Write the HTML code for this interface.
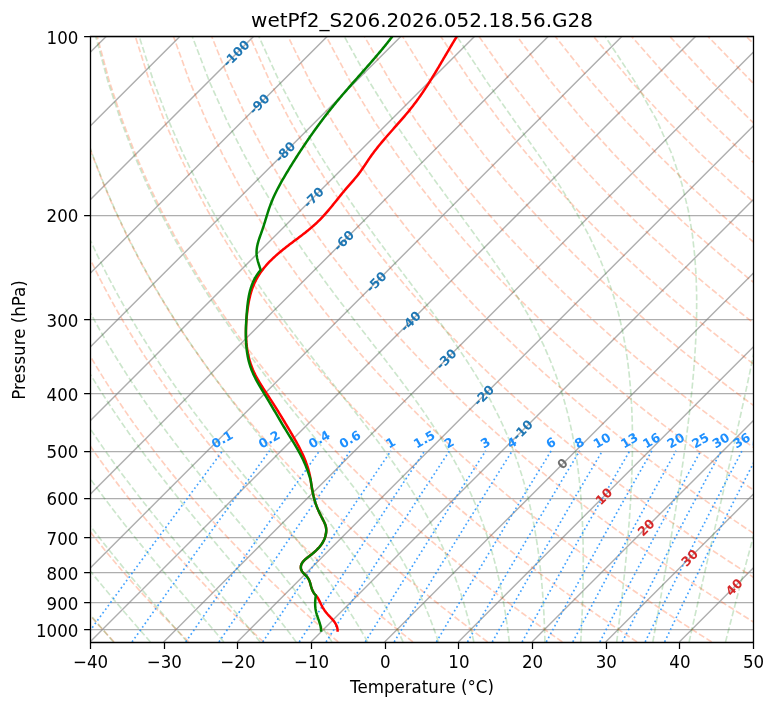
<!DOCTYPE html>
<html><head><meta charset="utf-8"><title>wetPf2_S206.2026.052.18.56.G28</title>
<style>html,body{margin:0;padding:0;background:#fff}svg{display:block}</style></head>
<body>
<svg width="775" height="708" viewBox="0 0 775 708" font-family="'DejaVu Sans', 'Liberation Sans', sans-serif">
<rect width="775" height="708" fill="#fff"/>
<defs><clipPath id="ax"><rect x="90.0" y="35.95" width="663.0" height="606.0"/></clipPath></defs>
<g clip-path="url(#ax)" fill="none">
<path d="M90.0,36.50 H753.0 M90.0,215.50 H753.0 M90.0,319.50 H753.0 M90.0,393.50 H753.0 M90.0,451.50 H753.0 M90.0,498.50 H753.0 M90.0,537.50 H753.0 M90.0,572.50 H753.0 M90.0,602.50 H753.0 M90.0,629.50 H753.0 " stroke="#808080" stroke-opacity="0.64" stroke-width="1.25"/>
<path d="M-573.00,641.95 L33.00,35.95 M-499.33,641.95 L106.67,35.95 M-425.67,641.95 L180.33,35.95 M-352.00,641.95 L254.00,35.95 M-278.33,641.95 L327.67,35.95 M-204.67,641.95 L401.33,35.95 M-131.00,641.95 L475.00,35.95 M-57.33,641.95 L548.67,35.95 M16.33,641.95 L622.33,35.95 M90.00,641.95 L696.00,35.95 M163.67,641.95 L769.67,35.95 M237.33,641.95 L843.33,35.95 M311.00,641.95 L917.00,35.95 M384.67,641.95 L990.67,35.95 M458.33,641.95 L1064.33,35.95 M532.00,641.95 L1138.00,35.95 M605.67,641.95 L1211.67,35.95 M679.33,641.95 L1285.33,35.95 M753.00,641.95 L1359.00,35.95 " stroke="#808080" stroke-opacity="0.64" stroke-width="1.42"/>
<path d="M114.11,641.95 L109.66,637.15 L105.18,632.25 L100.67,627.26 L96.12,622.18 L91.53,616.99 L86.91,611.69 L82.25,606.28 L77.56,600.76 L72.82,595.11 L68.05,589.34 L63.24,583.44 L58.38,577.40 L53.49,571.21 L48.55,564.87 L43.57,558.37 L38.55,551.70 L33.48,544.86 L28.37,537.83 L23.21,530.60 L18.01,523.16 L12.76,515.51 L7.47,507.61 L2.13,499.47 L-3.26,491.07 L-8.70,482.37 L-14.18,473.38 L-19.71,464.06 L-25.29,454.39 L-30.91,444.35 L-36.57,433.89 L-42.28,423.00 L-48.03,411.62 L-53.81,399.72 L-59.62,387.24 L-65.46,374.13 L-71.32,360.31 L-77.18,345.71 L-83.04,330.24 L-88.87,313.77 L-94.65,296.18 L-100.36,277.30 L-105.95,256.93 L-111.36,234.81 L-116.52,210.61 L-121.31,183.90 L-125.57,154.10 L-129.06,120.40 L-131.38,81.62 L-131.91,35.95 M188.81,641.95 L183.97,637.15 L179.09,632.25 L174.16,627.26 L169.20,622.18 L164.20,616.99 L159.15,611.69 L154.06,606.28 L148.92,600.76 L143.74,595.11 L138.52,589.34 L133.25,583.44 L127.92,577.40 L122.55,571.21 L117.13,564.87 L111.66,558.37 L106.14,551.70 L100.56,544.86 L94.93,537.83 L89.24,530.60 L83.49,523.16 L77.69,515.51 L71.83,507.61 L65.91,499.47 L59.93,491.07 L53.89,482.37 L47.79,473.38 L41.62,464.06 L35.39,454.39 L29.10,444.35 L22.74,433.89 L16.32,423.00 L9.84,411.62 L3.30,399.72 L-3.30,387.24 L-9.95,374.13 L-16.65,360.31 L-23.39,345.71 L-30.16,330.24 L-36.95,313.77 L-43.74,296.18 L-50.50,277.30 L-57.20,256.93 L-63.79,234.81 L-70.21,210.61 L-76.35,183.90 L-82.07,154.10 L-87.15,120.40 L-91.25,81.62 L-93.76,35.95 M263.51,641.95 L258.27,637.15 L252.99,632.25 L247.66,627.26 L242.28,622.18 L236.86,616.99 L231.39,611.69 L225.86,606.28 L220.29,600.76 L214.67,595.11 L208.99,589.34 L203.25,583.44 L197.47,577.40 L191.62,571.21 L185.71,564.87 L179.75,558.37 L173.72,551.70 L167.64,544.86 L161.48,537.83 L155.26,530.60 L148.98,523.16 L142.62,515.51 L136.20,507.61 L129.70,499.47 L123.13,491.07 L116.48,482.37 L109.75,473.38 L102.95,464.06 L96.07,454.39 L89.10,444.35 L82.05,433.89 L74.92,423.00 L67.71,411.62 L60.41,399.72 L53.03,387.24 L45.56,374.13 L38.02,360.31 L30.40,345.71 L22.71,330.24 L14.97,313.77 L7.18,296.18 L-0.64,277.30 L-8.45,256.93 L-16.23,234.81 L-23.90,210.61 L-31.39,183.90 L-38.58,154.10 L-45.25,120.40 L-51.11,81.62 L-55.60,35.95 M338.21,641.95 L332.58,637.15 L326.89,632.25 L321.15,627.26 L315.36,622.18 L309.52,616.99 L303.62,611.69 L297.67,606.28 L291.66,600.76 L285.59,595.11 L279.46,589.34 L273.26,583.44 L267.01,577.40 L260.69,571.21 L254.30,564.87 L247.84,558.37 L241.31,551.70 L234.71,544.86 L228.04,537.83 L221.29,530.60 L214.46,523.16 L207.55,515.51 L200.56,507.61 L193.49,499.47 L186.32,491.07 L179.07,482.37 L171.72,473.38 L164.28,464.06 L156.74,454.39 L149.11,444.35 L141.37,433.89 L133.52,423.00 L125.57,411.62 L117.52,399.72 L109.35,387.24 L101.07,374.13 L92.69,360.31 L84.19,345.71 L75.59,330.24 L66.89,313.77 L58.09,296.18 L49.22,277.30 L40.30,256.93 L31.34,234.81 L22.41,210.61 L13.56,183.90 L4.92,154.10 L-3.35,120.40 L-10.97,81.62 L-17.44,35.95 M412.91,641.95 L406.88,637.15 L400.79,632.25 L394.65,627.26 L388.44,622.18 L382.18,616.99 L375.86,611.69 L369.47,606.28 L363.02,600.76 L356.51,595.11 L349.92,589.34 L343.27,583.44 L336.55,577.40 L329.75,571.21 L322.88,564.87 L315.93,558.37 L308.90,551.70 L301.79,544.86 L294.60,537.83 L287.32,530.60 L279.95,523.16 L272.48,515.51 L264.93,507.61 L257.27,499.47 L249.52,491.07 L241.66,482.37 L233.69,473.38 L225.61,464.06 L217.42,454.39 L209.11,444.35 L200.68,433.89 L192.13,423.00 L183.44,411.62 L174.63,399.72 L165.67,387.24 L156.58,374.13 L147.35,360.31 L137.98,345.71 L128.46,330.24 L118.81,313.77 L109.01,296.18 L99.09,277.30 L89.04,256.93 L78.91,234.81 L68.72,210.61 L58.52,183.90 L48.42,154.10 L38.55,120.40 L29.17,81.62 L20.71,35.95 M487.61,641.95 L481.18,637.15 L474.69,632.25 L468.14,627.26 L461.53,622.18 L454.84,616.99 L448.09,611.69 L441.28,606.28 L434.39,600.76 L427.43,595.11 L420.39,589.34 L413.28,583.44 L406.09,577.40 L398.82,571.21 L391.46,564.87 L384.02,558.37 L376.49,551.70 L368.87,544.86 L361.16,537.83 L353.34,530.60 L345.43,523.16 L337.42,515.51 L329.29,507.61 L321.06,499.47 L312.71,491.07 L304.25,482.37 L295.66,473.38 L286.94,464.06 L278.10,454.39 L269.12,444.35 L260.00,433.89 L250.73,423.00 L241.31,411.62 L231.74,399.72 L222.00,387.24 L212.10,374.13 L202.02,360.31 L191.77,345.71 L181.34,330.24 L170.73,313.77 L159.93,296.18 L148.95,277.30 L137.79,256.93 L126.48,234.81 L115.03,210.61 L103.48,183.90 L91.91,154.10 L80.45,120.40 L69.31,81.62 L58.87,35.95 M562.31,641.95 L555.49,637.15 L548.60,632.25 L541.64,627.26 L534.61,622.18 L527.51,616.99 L520.33,611.69 L513.08,606.28 L505.76,600.76 L498.35,595.11 L490.86,589.34 L483.29,583.44 L475.63,577.40 L467.89,571.21 L460.05,564.87 L452.11,558.37 L444.08,551.70 L435.95,544.86 L427.71,537.83 L419.37,530.60 L410.92,523.16 L402.35,515.51 L393.66,507.61 L384.85,499.47 L375.91,491.07 L366.84,482.37 L357.63,473.38 L348.28,464.06 L338.78,454.39 L329.12,444.35 L319.31,433.89 L309.33,423.00 L299.18,411.62 L288.84,399.72 L278.32,387.24 L267.61,374.13 L256.69,360.31 L245.56,345.71 L234.22,330.24 L222.64,313.77 L210.84,296.18 L198.81,277.30 L186.54,256.93 L174.05,234.81 L161.33,210.61 L148.44,183.90 L135.41,154.10 L122.35,120.40 L109.44,81.62 L97.03,35.95 M637.01,641.95 L629.79,637.15 L622.50,632.25 L615.13,627.26 L607.69,622.18 L600.17,616.99 L592.57,611.69 L584.89,606.28 L577.12,600.76 L569.27,595.11 L561.33,589.34 L553.30,583.44 L545.17,577.40 L536.95,571.21 L528.63,564.87 L520.20,558.37 L511.67,551.70 L503.03,544.86 L494.27,537.83 L485.40,530.60 L476.40,523.16 L467.28,515.51 L458.02,507.61 L448.63,499.47 L439.10,491.07 L429.42,482.37 L419.60,473.38 L409.61,464.06 L399.45,454.39 L389.13,444.35 L378.62,433.89 L367.93,423.00 L357.04,411.62 L345.95,399.72 L334.65,387.24 L323.12,374.13 L311.36,360.31 L299.35,345.71 L287.09,330.24 L274.56,313.77 L261.76,296.18 L248.67,277.30 L235.29,256.93 L221.61,234.81 L207.64,210.61 L193.40,183.90 L178.91,154.10 L164.25,120.40 L149.58,81.62 L135.18,35.95 M711.71,641.95 L704.10,637.15 L696.40,632.25 L688.62,627.26 L680.77,622.18 L672.83,616.99 L664.80,611.69 L656.69,606.28 L648.49,600.76 L640.19,595.11 L631.80,589.34 L623.31,583.44 L614.72,577.40 L606.02,571.21 L597.21,564.87 L588.29,558.37 L579.26,551.70 L570.11,544.86 L560.83,537.83 L551.42,530.60 L541.88,523.16 L532.21,515.51 L522.39,507.61 L512.42,499.47 L502.30,491.07 L492.01,482.37 L481.56,473.38 L470.94,464.06 L460.13,454.39 L449.13,444.35 L437.94,433.89 L426.53,423.00 L414.91,411.62 L403.06,399.72 L390.97,387.24 L378.63,374.13 L366.03,360.31 L353.14,345.71 L339.97,330.24 L326.48,313.77 L312.68,296.18 L298.53,277.30 L284.04,256.93 L269.18,234.81 L253.95,210.61 L238.35,183.90 L222.40,154.10 L206.16,120.40 L189.72,81.62 L173.34,35.95 M786.42,641.95 L778.40,637.15 L770.30,632.25 L762.12,627.26 L753.85,622.18 L745.49,616.99 L737.04,611.69 L728.50,606.28 L719.85,600.76 L711.11,595.11 L702.27,589.34 L693.32,583.44 L684.26,577.40 L675.08,571.21 L665.79,564.87 L656.38,558.37 L646.85,551.70 L637.18,544.86 L627.39,537.83 L617.45,530.60 L607.37,523.16 L597.14,515.51 L586.75,507.61 L576.21,499.47 L565.49,491.07 L554.60,482.37 L543.53,473.38 L532.27,464.06 L520.81,454.39 L509.14,444.35 L497.25,433.89 L485.14,423.00 L472.78,411.62 L460.17,399.72 L447.30,387.24 L434.14,374.13 L420.69,360.31 L406.93,345.71 L392.84,330.24 L378.40,313.77 L363.59,296.18 L348.40,277.30 L332.79,256.93 L316.75,234.81 L300.26,210.61 L283.31,183.90 L265.90,154.10 L248.06,120.40 L229.86,81.62 L211.50,35.95 M861.12,641.95 L852.70,637.15 L844.20,632.25 L835.61,627.26 L826.93,622.18 L818.15,616.99 L809.28,611.69 L800.30,606.28 L791.22,600.76 L782.03,595.11 L772.74,589.34 L763.33,583.44 L753.80,577.40 L744.15,571.21 L734.38,564.87 L724.47,558.37 L714.44,551.70 L704.26,544.86 L693.94,537.83 L683.47,530.60 L672.85,523.16 L662.07,515.51 L651.12,507.61 L639.99,499.47 L628.69,491.07 L617.19,482.37 L605.50,473.38 L593.60,464.06 L581.49,454.39 L569.14,444.35 L556.57,433.89 L543.74,423.00 L530.65,411.62 L517.28,399.72 L503.62,387.24 L489.65,374.13 L475.36,360.31 L460.72,345.71 L445.72,330.24 L430.32,313.77 L414.51,296.18 L398.26,277.30 L381.54,256.93 L364.32,234.81 L346.57,210.61 L328.27,183.90 L309.40,154.10 L289.96,120.40 L270.00,81.62 L249.65,35.95 M935.82,641.95 L927.01,637.15 L918.11,632.25 L909.11,627.26 L900.01,622.18 L890.81,616.99 L881.51,611.69 L872.10,606.28 L862.59,600.76 L852.95,595.11 L843.21,589.34 L833.34,583.44 L823.34,577.40 L813.22,571.21 L802.96,564.87 L792.56,558.37 L782.03,551.70 L771.34,544.86 L760.50,537.83 L749.50,530.60 L738.34,523.16 L727.00,515.51 L715.48,507.61 L703.78,499.47 L691.88,491.07 L679.78,482.37 L667.47,473.38 L654.93,464.06 L642.16,454.39 L629.15,444.35 L615.88,433.89 L602.34,423.00 L588.52,411.62 L574.39,399.72 L559.95,387.24 L545.17,374.13 L530.03,360.31 L514.51,345.71 L498.59,330.24 L482.24,313.77 L465.43,296.18 L448.12,277.30 L430.28,256.93 L411.88,234.81 L392.88,210.61 L373.23,183.90 L352.89,154.10 L331.86,120.40 L310.14,81.62 L287.81,35.95 M1010.52,641.95 L1001.31,637.15 L992.01,632.25 L982.60,627.26 L973.09,622.18 L963.48,616.99 L953.75,611.69 L943.91,606.28 L933.95,600.76 L923.88,595.11 L913.67,589.34 L903.34,583.44 L892.88,577.40 L882.28,571.21 L871.54,564.87 L860.65,558.37 L849.62,551.70 L838.42,544.86 L827.06,537.83 L815.53,530.60 L803.82,523.16 L791.93,515.51 L779.85,507.61 L767.57,499.47 L755.08,491.07 L742.37,482.37 L729.44,473.38 L716.26,464.06 L702.84,454.39 L689.16,444.35 L675.19,433.89 L660.94,423.00 L646.38,411.62 L631.50,399.72 L616.27,387.24 L600.68,374.13 L584.70,360.31 L568.30,345.71 L551.47,330.24 L534.16,313.77 L516.34,296.18 L497.98,277.30 L479.03,256.93 L459.45,234.81 L439.19,210.61 L418.18,183.90 L396.39,154.10 L373.76,120.40 L350.27,81.62 L325.97,35.95 M1085.22,641.95 L1075.62,637.15 L1065.91,632.25 L1056.10,627.26 L1046.17,622.18 L1036.14,616.99 L1025.99,611.69 L1015.71,606.28 L1005.32,600.76 L994.80,595.11 L984.14,589.34 L973.35,583.44 L962.42,577.40 L951.35,571.21 L940.13,564.87 L928.75,558.37 L917.20,551.70 L905.50,544.86 L893.61,537.83 L881.55,530.60 L869.30,523.16 L856.86,515.51 L844.21,507.61 L831.35,499.47 L818.27,491.07 L804.96,482.37 L791.40,473.38 L777.59,464.06 L763.52,454.39 L749.16,444.35 L734.51,433.89 L719.54,423.00 L704.25,411.62 L688.61,399.72 L672.60,387.24 L656.19,374.13 L639.37,360.31 L622.09,345.71 L604.34,330.24 L586.08,313.77 L567.26,296.18 L547.84,277.30 L527.78,256.93 L507.02,234.81 L485.49,210.61 L463.14,183.90 L439.89,154.10 L415.66,120.40 L390.41,81.62 L364.12,35.95 M1159.92,641.95 L1149.92,637.15 L1139.81,632.25 L1129.59,627.26 L1119.25,622.18 L1108.80,616.99 L1098.22,611.69 L1087.52,606.28 L1076.69,600.76 L1065.72,595.11 L1054.61,589.34 L1043.36,583.44 L1031.97,577.40 L1020.42,571.21 L1008.71,564.87 L996.84,558.37 L984.79,551.70 L972.57,544.86 L960.17,537.83 L947.58,530.60 L934.79,523.16 L921.79,515.51 L908.58,507.61 L895.14,499.47 L881.47,491.07 L867.55,482.37 L853.37,473.38 L838.93,464.06 L824.20,454.39 L809.17,444.35 L793.82,433.89 L778.15,423.00 L762.12,411.62 L745.72,399.72 L728.92,387.24 L711.70,374.13 L694.03,360.31 L675.88,345.71 L657.22,330.24 L638.00,313.77 L618.18,296.18 L597.71,277.30 L576.53,256.93 L554.59,234.81 L531.80,210.61 L508.10,183.90 L483.38,154.10 L457.56,120.40 L430.55,81.62 L402.28,35.95 M1234.62,641.95 L1224.22,637.15 L1213.71,632.25 L1203.08,627.26 L1192.34,622.18 L1181.46,616.99 L1170.46,611.69 L1159.32,606.28 L1148.05,600.76 L1136.64,595.11 L1125.08,589.34 L1113.37,583.44 L1101.51,577.40 L1089.48,571.21 L1077.29,564.87 L1064.93,558.37 L1052.38,551.70 L1039.65,544.86 L1026.73,537.83 L1013.61,530.60 L1000.27,523.16 L986.72,515.51 L972.94,507.61 L958.93,499.47 L944.66,491.07 L930.14,482.37 L915.34,473.38 L900.26,464.06 L884.87,454.39 L869.17,444.35 L853.14,433.89 L836.75,423.00 L819.99,411.62 L802.83,399.72 L785.24,387.24 L767.21,374.13 L748.70,360.31 L729.67,345.71 L710.09,330.24 L689.92,313.77 L669.09,296.18 L647.57,277.30 L625.28,256.93 L602.15,234.81 L578.11,210.61 L553.06,183.90 L526.88,154.10 L499.47,120.40 L470.69,81.62 L440.44,35.95 M1309.32,641.95 L1298.53,637.15 L1287.61,632.25 L1276.58,627.26 L1265.42,622.18 L1254.12,616.99 L1242.69,611.69 L1231.13,606.28 L1219.42,600.76 L1207.56,595.11 L1195.55,589.34 L1183.38,583.44 L1171.05,577.40 L1158.55,571.21 L1145.87,564.87 L1133.02,558.37 L1119.97,551.70 L1106.73,544.86 L1093.29,537.83 L1079.63,530.60 L1065.76,523.16 L1051.65,515.51 L1037.31,507.61 L1022.71,499.47 L1007.86,491.07 L992.73,482.37 L977.31,473.38 L961.59,464.06 L945.55,454.39 L929.18,444.35 L912.45,433.89 L895.35,423.00 L877.85,411.62 L859.93,399.72 L841.57,387.24 L822.72,374.13 L803.37,360.31 L783.46,345.71 L762.97,330.24 L741.83,313.77 L720.01,296.18 L697.43,277.30 L674.03,256.93 L649.72,234.81 L624.42,210.61 L598.01,183.90 L570.38,154.10 L541.37,120.40 L510.83,81.62 L478.59,35.95 M1384.02,641.95 L1372.83,637.15 L1361.52,632.25 L1350.07,627.26 L1338.50,622.18 L1326.78,616.99 L1314.93,611.69 L1302.93,606.28 L1290.78,600.76 L1278.48,595.11 L1266.02,589.34 L1253.39,583.44 L1240.59,577.40 L1227.62,571.21 L1214.46,564.87 L1201.11,558.37 L1187.56,551.70 L1173.81,544.86 L1159.84,537.83 L1145.66,530.60 L1131.24,523.16 L1116.58,515.51 L1101.67,507.61 L1086.50,499.47 L1071.05,491.07 L1055.32,482.37 L1039.28,473.38 L1022.92,464.06 L1006.23,454.39 L989.18,444.35 L971.76,433.89 L953.95,423.00 L935.72,411.62 L917.04,399.72 L897.89,387.24 L878.24,374.13 L858.04,360.31 L837.25,345.71 L815.84,330.24 L793.75,313.77 L770.92,296.18 L747.29,277.30 L722.78,256.93 L697.29,234.81 L670.73,210.61 L642.97,183.90 L613.87,154.10 L583.27,120.40 L550.97,81.62 L516.75,35.95 M1458.72,641.95 L1447.14,637.15 L1435.42,632.25 L1423.57,627.26 L1411.58,622.18 L1399.45,616.99 L1387.17,611.69 L1374.74,606.28 L1362.15,600.76 L1349.40,595.11 L1336.49,589.34 L1323.40,583.44 L1310.13,577.40 L1296.68,571.21 L1283.04,564.87 L1269.20,558.37 L1255.15,551.70 L1240.89,544.86 L1226.40,537.83 L1211.68,530.60 L1196.72,523.16 L1181.51,515.51 L1166.04,507.61 L1150.29,499.47 L1134.25,491.07 L1117.90,482.37 L1101.24,473.38 L1084.25,464.06 L1066.90,454.39 L1049.19,444.35 L1031.08,433.89 L1012.55,423.00 L993.59,411.62 L974.15,399.72 L954.22,387.24 L933.75,374.13 L912.70,360.31 L891.04,345.71 L868.72,330.24 L845.67,313.77 L821.84,296.18 L797.15,277.30 L771.52,256.93 L744.86,234.81 L717.04,210.61 L687.93,183.90 L657.37,154.10 L625.17,120.40 L591.10,81.62 L554.91,35.95 M1533.42,641.95 L1521.44,637.15 L1509.32,632.25 L1497.06,627.26 L1484.66,622.18 L1472.11,616.99 L1459.40,611.69 L1446.54,606.28 L1433.52,600.76 L1420.32,595.11 L1406.96,589.34 L1393.41,583.44 L1379.67,577.40 L1365.75,571.21 L1351.62,564.87 L1337.29,558.37 L1322.74,551.70 L1307.97,544.86 L1292.96,537.83 L1277.71,530.60 L1262.21,523.16 L1246.44,515.51 L1230.40,507.61 L1214.07,499.47 L1197.44,491.07 L1180.49,482.37 L1163.21,473.38 L1145.58,464.06 L1127.58,454.39 L1109.19,444.35 L1090.39,433.89 L1071.16,423.00 L1051.46,411.62 L1031.26,399.72 L1010.54,387.24 L989.26,374.13 L967.37,360.31 L944.84,345.71 L921.59,330.24 L897.59,313.77 L872.76,296.18 L847.02,277.30 L820.27,256.93 L792.42,234.81 L763.35,210.61 L732.89,183.90 L700.87,154.10 L667.07,120.40 L631.24,81.62 L593.06,35.95 M1608.12,641.95 L1595.74,637.15 L1583.22,632.25 L1570.56,627.26 L1557.74,622.18 L1544.77,616.99 L1531.64,611.69 L1518.35,606.28 L1504.88,600.76 L1491.24,595.11 L1477.42,589.34 L1463.42,583.44 L1449.22,577.40 L1434.81,571.21 L1420.20,564.87 L1405.38,558.37 L1390.33,551.70 L1375.04,544.86 L1359.52,537.83 L1343.74,530.60 L1327.69,523.16 L1311.37,515.51 L1294.77,507.61 L1277.86,499.47 L1260.64,491.07 L1243.08,482.37 L1225.18,473.38 L1206.91,464.06 L1188.26,454.39 L1169.20,444.35 L1149.71,433.89 L1129.76,423.00 L1109.32,411.62 L1088.37,399.72 L1066.87,387.24 L1044.77,374.13 L1022.04,360.31 L998.63,345.71 L974.47,330.24 L949.51,313.77 L923.67,296.18 L896.88,277.30 L869.02,256.93 L839.99,234.81 L809.65,210.61 L777.84,183.90 L744.36,154.10 L708.97,120.40 L671.38,81.62 L631.22,35.95 M1682.82,641.95 L1670.05,637.15 L1657.12,632.25 L1644.05,627.26 L1630.82,622.18 L1617.43,616.99 L1603.88,611.69 L1590.15,606.28 L1576.25,600.76 L1562.17,595.11 L1547.89,589.34 L1533.43,583.44 L1518.76,577.40 L1503.88,571.21 L1488.79,564.87 L1473.47,558.37 L1457.92,551.70 L1442.12,544.86 L1426.07,537.83 L1409.76,530.60 L1393.18,523.16 L1376.30,515.51 L1359.13,507.61 L1341.65,499.47 L1323.83,491.07 L1305.67,482.37 L1287.15,473.38 L1268.24,464.06 L1248.94,454.39 L1229.20,444.35 L1209.02,433.89 L1188.36,423.00 L1167.19,411.62 L1145.48,399.72 L1123.19,387.24 L1100.28,374.13 L1076.71,360.31 L1052.42,345.71 L1027.35,330.24 L1001.43,313.77 L974.59,296.18 L946.74,277.30 L917.77,256.93 L887.56,234.81 L855.96,210.61 L822.80,183.90 L787.86,154.10 L750.88,120.40 L711.52,81.62 L669.38,35.95 M1757.52,641.95 L1744.35,637.15 L1731.03,632.25 L1717.55,627.26 L1703.90,622.18 L1690.09,616.99 L1676.11,611.69 L1661.96,606.28 L1647.62,600.76 L1633.09,595.11 L1618.36,589.34 L1603.44,583.44 L1588.30,577.40 L1572.95,571.21 L1557.37,564.87 L1541.56,558.37 L1525.51,551.70 L1509.20,544.86 L1492.63,537.83 L1475.79,530.60 L1458.66,523.16 L1441.24,515.51 L1423.50,507.61 L1405.43,499.47 L1387.03,491.07 L1368.26,482.37 L1349.12,473.38 L1329.58,464.06 L1309.61,454.39 L1289.21,444.35 L1268.33,433.89 L1246.96,423.00 L1225.06,411.62 L1202.59,399.72 L1179.52,387.24 L1155.79,374.13 L1131.38,360.31 L1106.21,345.71 L1080.22,330.24 L1053.35,313.77 L1025.51,296.18 L996.60,277.30 L966.52,256.93 L935.13,234.81 L902.27,210.61 L867.76,183.90 L831.36,154.10 L792.78,120.40 L751.66,81.62 L707.53,35.95 M1832.23,641.95 L1818.66,637.15 L1804.93,632.25 L1791.04,627.26 L1776.98,622.18 L1762.75,616.99 L1748.35,611.69 L1733.76,606.28 L1718.98,600.76 L1704.01,595.11 L1688.83,589.34 L1673.44,583.44 L1657.84,577.40 L1642.01,571.21 L1625.95,564.87 L1609.65,558.37 L1593.09,551.70 L1576.28,544.86 L1559.19,537.83 L1541.82,530.60 L1524.15,523.16 L1506.17,515.51 L1487.86,507.61 L1469.22,499.47 L1450.22,491.07 L1430.85,482.37 L1411.09,473.38 L1390.91,464.06 L1370.29,454.39 L1349.21,444.35 L1327.65,433.89 L1305.56,423.00 L1282.93,411.62 L1259.70,399.72 L1235.84,387.24 L1211.31,374.13 L1186.04,360.31 L1160.00,345.71 L1133.10,330.24 L1105.27,313.77 L1076.42,296.18 L1046.46,277.30 L1015.27,256.93 L982.70,234.81 L948.58,210.61 L912.72,183.90 L874.85,154.10 L834.68,120.40 L791.79,81.62 L745.69,35.95 M1906.93,641.95 L1892.96,637.15 L1878.83,632.25 L1864.53,627.26 L1850.06,622.18 L1835.42,616.99 L1820.59,611.69 L1805.56,606.28 L1790.35,600.76 L1774.93,595.11 L1759.30,589.34 L1743.45,583.44 L1727.38,577.40 L1711.08,571.21 L1694.54,564.87 L1677.74,558.37 L1660.68,551.70 L1643.36,544.86 L1625.75,537.83 L1607.84,530.60 L1589.63,523.16 L1571.10,515.51 L1552.23,507.61 L1533.01,499.47 L1513.42,491.07 L1493.44,482.37 L1473.05,473.38 L1452.24,464.06 L1430.97,454.39 L1409.22,444.35 L1386.96,433.89 L1364.17,423.00 L1340.79,411.62 L1316.81,399.72 L1292.17,387.24 L1266.82,374.13 L1240.71,360.31 L1213.79,345.71 L1185.97,330.24 L1157.19,313.77 L1127.34,296.18 L1096.32,277.30 L1064.02,256.93 L1030.26,234.81 L994.89,210.61 L957.67,183.90 L918.35,154.10 L876.58,120.40 L831.93,81.62 L783.85,35.95 " stroke="#ff4500" stroke-opacity="0.26" stroke-width="1.667" stroke-dasharray="6.17 2.67"/>
<path d="M113.45,641.95 L109.28,637.15 L105.05,632.25 L100.76,627.26 L96.43,622.18 L92.03,616.99 L87.58,611.69 L83.08,606.28 L78.53,600.76 L73.92,595.11 L69.26,589.34 L64.54,583.44 L59.77,577.40 L54.95,571.21 L50.08,564.87 L45.15,558.37 L40.17,551.70 L35.15,544.86 L30.06,537.83 L24.93,530.60 L19.75,523.16 L14.51,515.51 L9.22,507.61 L3.88,499.47 L-1.51,491.07 L-6.95,482.37 L-12.44,473.38 L-17.98,464.06 L-23.57,454.39 L-29.21,444.35 L-34.89,433.89 L-40.61,423.00 L-46.38,411.62 L-52.18,399.72 L-58.02,387.24 L-63.88,374.13 L-69.76,360.31 L-75.65,345.71 L-81.53,330.24 L-87.39,313.77 L-93.21,296.18 L-98.94,277.30 L-104.57,256.93 L-110.01,234.81 L-115.21,210.61 L-120.04,183.90 L-124.34,154.10 L-127.87,120.40 L-130.25,81.62 L-130.84,35.95 M150.41,641.95 L146.20,637.15 L141.92,632.25 L137.57,627.26 L133.15,622.18 L128.66,616.99 L124.11,611.69 L119.50,606.28 L114.81,600.76 L110.06,595.11 L105.25,589.34 L100.37,583.44 L95.43,577.40 L90.42,571.21 L85.36,564.87 L80.22,558.37 L75.03,551.70 L69.77,544.86 L64.46,537.83 L59.08,530.60 L53.64,523.16 L48.14,515.51 L42.57,507.61 L36.95,499.47 L31.26,491.07 L25.52,482.37 L19.72,473.38 L13.85,464.06 L7.93,454.39 L1.95,444.35 L-4.09,433.89 L-10.18,423.00 L-16.33,411.62 L-22.52,399.72 L-28.76,387.24 L-35.05,374.13 L-41.36,360.31 L-47.71,345.71 L-54.07,330.24 L-60.42,313.77 L-66.76,296.18 L-73.04,277.30 L-79.24,256.93 L-85.30,234.81 L-91.15,210.61 L-96.68,183.90 L-101.75,154.10 L-106.11,120.40 L-109.40,81.62 L-111.02,35.95 M187.21,641.95 L183.02,637.15 L178.75,632.25 L174.40,627.26 L169.96,622.18 L165.44,616.99 L160.84,611.69 L156.16,606.28 L151.40,600.76 L146.55,595.11 L141.63,589.34 L136.63,583.44 L131.55,577.40 L126.39,571.21 L121.16,564.87 L115.85,558.37 L110.46,551.70 L105.00,544.86 L99.46,537.83 L93.85,530.60 L88.17,523.16 L82.41,515.51 L76.58,507.61 L70.68,499.47 L64.70,491.07 L58.66,482.37 L52.54,473.38 L46.35,464.06 L40.09,454.39 L33.77,444.35 L27.37,433.89 L20.90,423.00 L14.37,411.62 L7.78,399.72 L1.12,387.24 L-5.59,374.13 L-12.36,360.31 L-19.16,345.71 L-26.01,330.24 L-32.87,313.77 L-39.74,296.18 L-46.58,277.30 L-53.37,256.93 L-60.06,234.81 L-66.58,210.61 L-72.82,183.90 L-78.66,154.10 L-83.87,120.40 L-88.10,81.62 L-90.77,35.95 M223.80,641.95 L219.72,637.15 L215.54,632.25 L211.26,627.26 L206.89,622.18 L202.41,616.99 L197.84,611.69 L193.16,606.28 L188.39,600.76 L183.52,595.11 L178.55,589.34 L173.48,583.44 L168.31,577.40 L163.05,571.21 L157.70,564.87 L152.25,558.37 L146.71,551.70 L141.07,544.86 L135.34,537.83 L129.53,530.60 L123.62,523.16 L117.63,515.51 L111.54,507.61 L105.37,499.47 L99.12,491.07 L92.77,482.37 L86.35,473.38 L79.83,464.06 L73.24,454.39 L66.56,444.35 L59.80,433.89 L52.95,423.00 L46.03,411.62 L39.02,399.72 L31.94,387.24 L24.79,374.13 L17.56,360.31 L10.28,345.71 L2.93,330.24 L-4.45,313.77 L-11.87,296.18 L-19.29,277.30 L-26.69,256.93 L-34.02,234.81 L-41.23,210.61 L-48.22,183.90 L-54.85,154.10 L-60.94,120.40 L-66.13,81.62 L-69.89,35.95 M260.13,641.95 L256.26,637.15 L252.27,632.25 L248.17,627.26 L243.95,622.18 L239.61,616.99 L235.16,611.69 L230.59,606.28 L225.90,600.76 L221.09,595.11 L216.15,589.34 L211.10,583.44 L205.93,577.40 L200.64,571.21 L195.24,564.87 L189.71,558.37 L184.07,551.70 L178.32,544.86 L172.45,537.83 L166.47,530.60 L160.37,523.16 L154.17,515.51 L147.86,507.61 L141.45,499.47 L134.92,491.07 L128.30,482.37 L121.57,473.38 L114.73,464.06 L107.80,454.39 L100.77,444.35 L93.63,433.89 L86.40,423.00 L79.07,411.62 L71.65,399.72 L64.12,387.24 L56.51,374.13 L48.81,360.31 L41.02,345.71 L33.16,330.24 L25.23,313.77 L17.24,296.18 L9.21,277.30 L1.18,256.93 L-6.83,234.81 L-14.75,210.61 L-22.51,183.90 L-29.99,154.10 L-36.98,120.40 L-43.19,81.62 L-48.07,35.95 M296.20,641.95 L292.63,637.15 L288.94,632.25 L285.12,627.26 L281.17,622.18 L277.09,616.99 L272.87,611.69 L268.52,606.28 L264.02,600.76 L259.39,595.11 L254.61,589.34 L249.69,583.44 L244.62,577.40 L239.41,571.21 L234.06,564.87 L228.55,558.37 L222.90,551.70 L217.11,544.86 L211.18,537.83 L205.10,530.60 L198.89,523.16 L192.54,515.51 L186.05,507.61 L179.42,499.47 L172.67,491.07 L165.78,482.37 L158.77,473.38 L151.63,464.06 L144.37,454.39 L136.98,444.35 L129.47,433.89 L121.85,423.00 L114.10,411.62 L106.24,399.72 L98.26,387.24 L90.16,374.13 L81.96,360.31 L73.65,345.71 L65.23,330.24 L56.72,313.77 L48.13,296.18 L39.46,277.30 L30.75,256.93 L22.03,234.81 L13.34,210.61 L4.76,183.90 L-3.60,154.10 L-11.56,120.40 L-18.83,81.62 L-24.92,35.95 M332.01,641.95 L328.84,637.15 L325.54,632.25 L322.11,627.26 L318.55,622.18 L314.84,616.99 L310.99,611.69 L306.99,606.28 L302.83,600.76 L298.51,595.11 L294.03,589.34 L289.38,583.44 L284.57,577.40 L279.58,571.21 L274.41,564.87 L269.07,558.37 L263.55,551.70 L257.85,544.86 L251.98,537.83 L245.92,530.60 L239.69,523.16 L233.28,515.51 L226.70,507.61 L219.95,499.47 L213.03,491.07 L205.94,482.37 L198.69,473.38 L191.27,464.06 L183.71,454.39 L175.98,444.35 L168.11,433.89 L160.08,423.00 L151.91,411.62 L143.59,399.72 L135.13,387.24 L126.53,374.13 L117.79,360.31 L108.92,345.71 L99.91,330.24 L90.78,313.77 L81.54,296.18 L72.18,277.30 L62.74,256.93 L53.25,234.81 L43.73,210.61 L34.26,183.90 L24.95,154.10 L15.94,120.40 L7.51,81.62 L0.12,35.95 M367.60,641.95 L364.91,637.15 L362.09,632.25 L359.15,627.26 L356.08,622.18 L352.86,616.99 L349.49,611.69 L345.97,606.28 L342.29,600.76 L338.44,595.11 L334.42,589.34 L330.21,583.44 L325.82,577.40 L321.23,571.21 L316.45,564.87 L311.45,558.37 L306.25,551.70 L300.84,544.86 L295.20,537.83 L289.35,530.60 L283.27,523.16 L276.97,515.51 L270.45,507.61 L263.71,499.47 L256.75,491.07 L249.57,482.37 L242.17,473.38 L234.57,464.06 L226.76,454.39 L218.75,444.35 L210.54,433.89 L202.14,423.00 L193.54,411.62 L184.77,399.72 L175.81,387.24 L166.68,374.13 L157.37,360.31 L147.89,345.71 L138.24,330.24 L128.43,313.77 L118.47,296.18 L108.35,277.30 L98.11,256.93 L87.76,234.81 L77.33,210.61 L66.88,183.90 L56.51,154.10 L46.34,120.40 L36.63,81.62 L27.80,35.95 M403.05,641.95 L400.88,637.15 L398.61,632.25 L396.22,627.26 L393.71,622.18 L391.07,616.99 L388.29,611.69 L385.37,606.28 L382.29,600.76 L379.05,595.11 L375.64,589.34 L372.05,583.44 L368.26,577.40 L364.27,571.21 L360.08,564.87 L355.66,558.37 L351.01,551.70 L346.12,544.86 L340.98,537.83 L335.58,530.60 L329.92,523.16 L323.98,515.51 L317.77,507.61 L311.28,499.47 L304.51,491.07 L297.45,482.37 L290.11,473.38 L282.49,464.06 L274.59,454.39 L266.41,444.35 L257.97,433.89 L249.27,423.00 L240.31,411.62 L231.11,399.72 L221.66,387.24 L211.98,374.13 L202.08,360.31 L191.95,345.71 L181.60,330.24 L171.04,313.77 L160.28,296.18 L149.31,277.30 L138.17,256.93 L126.85,234.81 L115.39,210.61 L103.83,183.90 L92.25,154.10 L80.78,120.40 L69.62,81.62 L59.16,35.95 M438.42,641.95 L436.81,637.15 L435.10,632.25 L433.30,627.26 L431.40,622.18 L429.39,616.99 L427.26,611.69 L425.01,606.28 L422.62,600.76 L420.09,595.11 L417.41,589.34 L414.56,583.44 L411.53,577.40 L408.32,571.21 L404.91,564.87 L401.28,558.37 L397.42,551.70 L393.33,544.86 L388.97,537.83 L384.34,530.60 L379.42,523.16 L374.19,515.51 L368.65,507.61 L362.78,499.47 L356.56,491.07 L349.99,482.37 L343.06,473.38 L335.76,464.06 L328.08,454.39 L320.03,444.35 L311.61,433.89 L302.83,423.00 L293.68,411.62 L284.19,399.72 L274.35,387.24 L264.18,374.13 L253.70,360.31 L242.91,345.71 L231.82,330.24 L220.44,313.77 L208.78,296.18 L196.86,277.30 L184.68,256.93 L172.25,234.81 L159.59,210.61 L146.75,183.90 L133.78,154.10 L120.78,120.40 L107.94,81.62 L95.59,35.95 M473.82,641.95 L472.75,637.15 L471.60,632.25 L470.39,627.26 L469.09,622.18 L467.72,616.99 L466.25,611.69 L464.69,606.28 L463.02,600.76 L461.24,595.11 L459.34,589.34 L457.30,583.44 L455.12,577.40 L452.79,571.21 L450.29,564.87 L447.60,558.37 L444.72,551.70 L441.62,544.86 L438.29,537.83 L434.71,530.60 L430.85,523.16 L426.70,515.51 L422.23,507.61 L417.41,499.47 L412.23,491.07 L406.66,482.37 L400.67,473.38 L394.24,464.06 L387.34,454.39 L379.97,444.35 L372.11,433.89 L363.74,423.00 L354.85,411.62 L345.46,399.72 L335.57,387.24 L325.17,374.13 L314.30,360.31 L302.97,345.71 L291.20,330.24 L279.00,313.77 L266.39,296.18 L253.40,277.30 L240.03,256.93 L226.32,234.81 L212.26,210.61 L197.90,183.90 L183.28,154.10 L168.46,120.40 L153.61,81.62 L139.01,35.95 M509.31,641.95 L508.74,637.15 L508.12,632.25 L507.45,627.26 L506.74,622.18 L505.96,616.99 L505.13,611.69 L504.22,606.28 L503.25,600.76 L502.20,595.11 L501.06,589.34 L499.83,583.44 L498.50,577.40 L497.05,571.21 L495.48,564.87 L493.78,558.37 L491.93,551.70 L489.92,544.86 L487.73,537.83 L485.34,530.60 L482.73,523.16 L479.89,515.51 L476.77,507.61 L473.37,499.47 L469.63,491.07 L465.55,482.37 L461.06,473.38 L456.14,464.06 L450.75,454.39 L444.83,444.35 L438.36,433.89 L431.27,423.00 L423.54,411.62 L415.13,399.72 L406.00,387.24 L396.15,374.13 L385.56,360.31 L374.23,345.71 L362.18,330.24 L349.45,313.77 L336.05,296.18 L322.02,277.30 L307.41,256.93 L292.24,234.81 L276.56,210.61 L260.38,183.90 L243.76,154.10 L226.74,120.40 L209.45,81.62 L192.09,35.95 M544.94,641.95 L544.82,637.15 L544.67,632.25 L544.50,627.26 L544.30,622.18 L544.06,616.99 L543.79,611.69 L543.49,606.28 L543.14,600.76 L542.75,595.11 L542.30,589.34 L541.80,583.44 L541.24,577.40 L540.62,571.21 L539.91,564.87 L539.13,558.37 L538.25,551.70 L537.27,544.86 L536.17,537.83 L534.95,530.60 L533.59,523.16 L532.06,515.51 L530.36,507.61 L528.45,499.47 L526.31,491.07 L523.92,482.37 L521.23,473.38 L518.21,464.06 L514.81,454.39 L510.98,444.35 L506.67,433.89 L501.80,423.00 L496.31,411.62 L490.11,399.72 L483.13,387.24 L475.26,374.13 L466.44,360.31 L456.58,345.71 L445.63,330.24 L433.53,313.77 L420.30,296.18 L405.94,277.30 L390.51,256.93 L374.07,234.81 L356.70,210.61 L338.47,183.90 L319.47,154.10 L299.75,120.40 L279.41,81.62 L258.61,35.95 M580.74,641.95 L581.00,637.15 L581.26,632.25 L581.51,627.26 L581.75,622.18 L581.98,616.99 L582.20,611.69 L582.41,606.28 L582.59,600.76 L582.76,595.11 L582.91,589.34 L583.04,583.44 L583.14,577.40 L583.21,571.21 L583.25,564.87 L583.25,558.37 L583.20,551.70 L583.11,544.86 L582.96,537.83 L582.75,530.60 L582.47,523.16 L582.10,515.51 L581.64,507.61 L581.07,499.47 L580.38,491.07 L579.55,482.37 L578.55,473.38 L577.36,464.06 L575.94,454.39 L574.27,444.35 L572.30,433.89 L569.96,423.00 L567.21,411.62 L563.95,399.72 L560.11,387.24 L555.57,374.13 L550.20,360.31 L543.84,345.71 L536.33,330.24 L527.46,313.77 L517.05,296.18 L504.92,277.30 L490.91,256.93 L474.96,234.81 L457.09,210.61 L437.41,183.90 L416.08,154.10 L393.30,120.40 L369.24,81.62 L344.08,35.95 M616.70,641.95 L617.30,637.15 L617.89,632.25 L618.50,627.26 L619.10,622.18 L619.72,616.99 L620.34,611.69 L620.96,606.28 L621.59,600.76 L622.22,595.11 L622.85,589.34 L623.49,583.44 L624.12,577.40 L624.76,571.21 L625.40,564.87 L626.03,558.37 L626.65,551.70 L627.27,544.86 L627.88,537.83 L628.48,530.60 L629.06,523.16 L629.62,515.51 L630.15,507.61 L630.65,499.47 L631.11,491.07 L631.53,482.37 L631.88,473.38 L632.17,464.06 L632.37,454.39 L632.47,444.35 L632.45,433.89 L632.27,423.00 L631.90,411.62 L631.30,399.72 L630.42,387.24 L629.19,374.13 L627.52,360.31 L625.30,345.71 L622.38,330.24 L618.59,313.77 L613.66,296.18 L607.30,277.30 L599.10,256.93 L588.59,234.81 L575.24,210.61 L558.53,183.90 L538.16,154.10 L514.12,120.40 L486.73,81.62 L456.55,35.95 M652.84,641.95 L653.69,637.15 L654.56,632.25 L655.45,627.26 L656.35,622.18 L657.27,616.99 L658.21,611.69 L659.17,606.28 L660.15,600.76 L661.14,595.11 L662.16,589.34 L663.19,583.44 L664.25,577.40 L665.33,571.21 L666.42,564.87 L667.54,558.37 L668.69,551.70 L669.85,544.86 L671.04,537.83 L672.25,530.60 L673.48,523.16 L674.74,515.51 L676.01,507.61 L677.31,499.47 L678.63,491.07 L679.97,482.37 L681.32,473.38 L682.69,464.06 L684.07,454.39 L685.46,444.35 L686.84,433.89 L688.22,423.00 L689.58,411.62 L690.91,399.72 L692.19,387.24 L693.39,374.13 L694.49,360.31 L695.44,345.71 L696.18,330.24 L696.63,313.77 L696.68,296.18 L696.17,277.30 L694.86,256.93 L692.42,234.81 L688.34,210.61 L681.87,183.90 L671.88,154.10 L656.82,120.40 L634.89,81.62 L604.81,35.95 M689.12,641.95 L690.18,637.15 L691.27,632.25 L692.38,627.26 L693.51,622.18 L694.67,616.99 L695.86,611.69 L697.07,606.28 L698.32,600.76 L699.59,595.11 L700.90,589.34 L702.24,583.44 L703.61,577.40 L705.02,571.21 L706.47,564.87 L707.96,558.37 L709.48,551.70 L711.05,544.86 L712.67,537.83 L714.33,530.60 L716.04,523.16 L717.80,515.51 L719.62,507.61 L721.49,499.47 L723.42,491.07 L725.41,482.37 L727.47,473.38 L729.59,464.06 L731.79,454.39 L734.06,444.35 L736.41,433.89 L738.85,423.00 L741.36,411.62 L743.97,399.72 L746.67,387.24 L749.46,374.13 L752.34,360.31 L755.32,345.71 L758.39,330.24 L761.54,313.77 L764.74,296.18 L767.98,277.30 L771.20,256.93 L774.31,234.81 L777.18,210.61 L779.57,183.90 L781.03,154.10 L780.80,120.40 L777.36,81.62 L767.69,35.95 M725.54,641.95 L726.76,637.15 L728.01,632.25 L729.28,627.26 L730.59,622.18 L731.93,616.99 L733.30,611.69 L734.71,606.28 L736.15,600.76 L737.64,595.11 L739.16,589.34 L740.73,583.44 L742.33,577.40 L743.99,571.21 L745.69,564.87 L747.45,558.37 L749.25,551.70 L751.12,544.86 L753.04,537.83 L755.02,530.60 L757.07,523.16 L759.19,515.51 L761.39,507.61 L763.66,499.47 L766.02,491.07 L768.46,482.37 L771.00,473.38 L773.64,464.06 L776.40,454.39 L779.26,444.35 L782.26,433.89 L785.38,423.00 L788.66,411.62 L792.09,399.72 L795.70,387.24 L799.49,374.13 L803.49,360.31 L807.71,345.71 L812.18,330.24 L816.92,313.77 L821.97,296.18 L827.35,277.30 L833.09,256.93 L839.25,234.81 L845.86,210.61 L852.95,183.90 L860.55,154.10 L868.63,120.40 L877.05,81.62 L885.31,35.95 M762.07,641.95 L763.40,637.15 L764.77,632.25 L766.17,627.26 L767.60,622.18 L769.07,616.99 L770.58,611.69 L772.13,606.28 L773.71,600.76 L775.35,595.11 L777.03,589.34 L778.75,583.44 L780.53,577.40 L782.36,571.21 L784.24,564.87 L786.18,558.37 L788.18,551.70 L790.25,544.86 L792.39,537.83 L794.60,530.60 L796.89,523.16 L799.25,515.51 L801.71,507.61 L804.26,499.47 L806.90,491.07 L809.65,482.37 L812.52,473.38 L815.51,464.06 L818.62,454.39 L821.89,444.35 L825.30,433.89 L828.88,423.00 L832.64,411.62 L836.60,399.72 L840.78,387.24 L845.20,374.13 L849.89,360.31 L854.87,345.71 L860.19,330.24 L865.88,313.77 L871.99,296.18 L878.59,277.30 L885.75,256.93 L893.56,234.81 L902.14,210.61 L911.64,183.90 L922.24,154.10 L934.21,120.40 L947.90,81.62 L963.79,35.95 " stroke="#008000" stroke-opacity="0.2" stroke-width="1.667" stroke-dasharray="6.17 2.67"/>
<path d="M81.81,641.95 L83.83,639.18 L85.87,636.38 L87.93,633.55 L90.02,630.69 L92.13,627.79 L94.26,624.87 L96.42,621.91 L98.61,618.91 L100.82,615.88 L103.06,612.81 L105.33,609.71 L107.63,606.57 L109.95,603.39 L112.31,600.17 L114.70,596.91 L117.12,593.61 L119.57,590.26 L122.05,586.87 L124.57,583.44 L127.12,579.96 L129.72,576.43 L132.34,572.85 L135.01,569.22 L137.71,565.54 L140.46,561.81 L143.25,558.02 L146.08,554.18 L148.95,550.28 L151.87,546.32 L154.84,542.29 L157.85,538.20 L160.92,534.05 L164.04,529.83 L167.21,525.54 L170.43,521.17 L173.72,516.73 L177.06,512.21 L180.47,507.61 L183.94,502.93 L187.47,498.16 L191.08,493.30 L194.75,488.35 L198.50,483.30 L202.33,478.15 L206.24,472.90 L210.23,467.53 L214.31,462.06 L218.48,456.46 L222.75,450.74 M132.05,641.95 L134.01,639.18 L136.00,636.38 L138.01,633.55 L140.04,630.69 L142.10,627.79 L144.18,624.87 L146.29,621.91 L148.42,618.91 L150.58,615.88 L152.76,612.81 L154.97,609.71 L157.21,606.57 L159.48,603.39 L161.78,600.17 L164.11,596.91 L166.46,593.61 L168.85,590.26 L171.28,586.87 L173.73,583.44 L176.23,579.96 L178.75,576.43 L181.32,572.85 L183.92,569.22 L186.55,565.54 L189.23,561.81 L191.95,558.02 L194.71,554.18 L197.52,550.28 L200.37,546.32 L203.27,542.29 L206.21,538.20 L209.20,534.05 L212.25,529.83 L215.34,525.54 L218.49,521.17 L221.70,516.73 L224.97,512.21 L228.29,507.61 L231.68,502.93 L235.13,498.16 L238.65,493.30 L242.24,488.35 L245.91,483.30 L249.65,478.15 L253.47,472.90 L257.37,467.53 L261.35,462.06 L265.43,456.46 L269.60,450.74 M185.78,641.95 L187.68,639.18 L189.61,636.38 L191.57,633.55 L193.54,630.69 L195.54,627.79 L197.56,624.87 L199.60,621.91 L201.67,618.91 L203.77,615.88 L205.89,612.81 L208.04,609.71 L210.22,606.57 L212.42,603.39 L214.65,600.17 L216.92,596.91 L219.21,593.61 L221.53,590.26 L223.89,586.87 L226.28,583.44 L228.70,579.96 L231.15,576.43 L233.65,572.85 L236.17,569.22 L238.74,565.54 L241.35,561.81 L243.99,558.02 L246.68,554.18 L249.41,550.28 L252.18,546.32 L255.00,542.29 L257.86,538.20 L260.77,534.05 L263.73,529.83 L266.75,525.54 L269.81,521.17 L272.94,516.73 L276.11,512.21 L279.35,507.61 L282.65,502.93 L286.01,498.16 L289.44,493.30 L292.94,488.35 L296.51,483.30 L300.15,478.15 L303.87,472.90 L307.67,467.53 L311.55,462.06 L315.53,456.46 L319.59,450.74 M218.97,641.95 L220.84,639.18 L222.73,636.38 L224.65,633.55 L226.58,630.69 L228.54,627.79 L230.53,624.87 L232.53,621.91 L234.57,618.91 L236.62,615.88 L238.70,612.81 L240.81,609.71 L242.95,606.57 L245.11,603.39 L247.30,600.17 L249.52,596.91 L251.77,593.61 L254.06,590.26 L256.37,586.87 L258.71,583.44 L261.09,579.96 L263.50,576.43 L265.95,572.85 L268.43,569.22 L270.95,565.54 L273.51,561.81 L276.11,558.02 L278.75,554.18 L281.43,550.28 L284.15,546.32 L286.92,542.29 L289.73,538.20 L292.59,534.05 L295.50,529.83 L298.46,525.54 L301.48,521.17 L304.54,516.73 L307.67,512.21 L310.85,507.61 L314.09,502.93 L317.40,498.16 L320.77,493.30 L324.21,488.35 L327.71,483.30 L331.29,478.15 L334.95,472.90 L338.69,467.53 L342.51,462.06 L346.42,456.46 L350.41,450.74 M262.78,641.95 L264.60,639.18 L266.45,636.38 L268.31,633.55 L270.20,630.69 L272.11,627.79 L274.04,624.87 L275.99,621.91 L277.97,618.91 L279.98,615.88 L282.01,612.81 L284.06,609.71 L286.14,606.57 L288.25,603.39 L290.39,600.17 L292.55,596.91 L294.74,593.61 L296.97,590.26 L299.22,586.87 L301.51,583.44 L303.83,579.96 L306.18,576.43 L308.56,572.85 L310.99,569.22 L313.44,565.54 L315.94,561.81 L318.47,558.02 L321.05,554.18 L323.66,550.28 L326.32,546.32 L329.02,542.29 L331.77,538.20 L334.56,534.05 L337.40,529.83 L340.29,525.54 L343.23,521.17 L346.22,516.73 L349.27,512.21 L352.38,507.61 L355.55,502.93 L358.77,498.16 L362.06,493.30 L365.42,488.35 L368.85,483.30 L372.35,478.15 L375.92,472.90 L379.57,467.53 L383.30,462.06 L387.12,456.46 L391.03,450.74 M299.25,641.95 L301.03,639.18 L302.83,636.38 L304.65,633.55 L306.49,630.69 L308.36,627.79 L310.25,624.87 L312.16,621.91 L314.09,618.91 L316.05,615.88 L318.04,612.81 L320.04,609.71 L322.08,606.57 L324.14,603.39 L326.23,600.17 L328.35,596.91 L330.49,593.61 L332.67,590.26 L334.87,586.87 L337.11,583.44 L339.37,579.96 L341.67,576.43 L344.01,572.85 L346.38,569.22 L348.78,565.54 L351.22,561.81 L353.70,558.02 L356.22,554.18 L358.78,550.28 L361.38,546.32 L364.03,542.29 L366.71,538.20 L369.45,534.05 L372.23,529.83 L375.06,525.54 L377.94,521.17 L380.87,516.73 L383.86,512.21 L386.90,507.61 L390.00,502.93 L393.16,498.16 L396.39,493.30 L399.67,488.35 L403.03,483.30 L406.46,478.15 L409.96,472.90 L413.54,467.53 L417.20,462.06 L420.94,456.46 L424.77,450.74 M326.08,641.95 L327.83,639.18 L329.60,636.38 L331.39,633.55 L333.20,630.69 L335.03,627.79 L336.89,624.87 L338.76,621.91 L340.67,618.91 L342.59,615.88 L344.54,612.81 L346.51,609.71 L348.51,606.57 L350.54,603.39 L352.59,600.17 L354.67,596.91 L356.78,593.61 L358.92,590.26 L361.09,586.87 L363.29,583.44 L365.52,579.96 L367.78,576.43 L370.07,572.85 L372.40,569.22 L374.77,565.54 L377.17,561.81 L379.61,558.02 L382.09,554.18 L384.60,550.28 L387.16,546.32 L389.76,542.29 L392.41,538.20 L395.10,534.05 L397.83,529.83 L400.62,525.54 L403.45,521.17 L406.34,516.73 L409.28,512.21 L412.27,507.61 L415.32,502.93 L418.44,498.16 L421.61,493.30 L424.85,488.35 L428.15,483.30 L431.53,478.15 L434.98,472.90 L438.50,467.53 L442.10,462.06 L445.79,456.46 L449.56,450.74 M365.31,641.95 L367.01,639.18 L368.73,636.38 L370.48,633.55 L372.24,630.69 L374.02,627.79 L375.83,624.87 L377.66,621.91 L379.51,618.91 L381.39,615.88 L383.28,612.81 L385.21,609.71 L387.16,606.57 L389.13,603.39 L391.13,600.17 L393.16,596.91 L395.21,593.61 L397.29,590.26 L399.41,586.87 L401.55,583.44 L403.72,579.96 L405.93,576.43 L408.17,572.85 L410.44,569.22 L412.74,565.54 L415.09,561.81 L417.46,558.02 L419.88,554.18 L422.34,550.28 L424.83,546.32 L427.37,542.29 L429.95,538.20 L432.57,534.05 L435.24,529.83 L437.96,525.54 L440.72,521.17 L443.54,516.73 L446.41,512.21 L449.33,507.61 L452.31,502.93 L455.35,498.16 L458.45,493.30 L461.61,488.35 L464.84,483.30 L468.14,478.15 L471.51,472.90 L474.95,467.53 L478.47,462.06 L482.07,456.46 L485.76,450.74 M394.19,641.95 L395.86,639.18 L397.54,636.38 L399.25,633.55 L400.98,630.69 L402.73,627.79 L404.50,624.87 L406.29,621.91 L408.10,618.91 L409.94,615.88 L411.80,612.81 L413.68,609.71 L415.59,606.57 L417.53,603.39 L419.49,600.17 L421.48,596.91 L423.49,593.61 L425.53,590.26 L427.60,586.87 L429.70,583.44 L431.84,579.96 L434.00,576.43 L436.19,572.85 L438.42,569.22 L440.68,565.54 L442.98,561.81 L445.31,558.02 L447.68,554.18 L450.09,550.28 L452.54,546.32 L455.03,542.29 L457.56,538.20 L460.13,534.05 L462.75,529.83 L465.42,525.54 L468.14,521.17 L470.90,516.73 L473.72,512.21 L476.59,507.61 L479.51,502.93 L482.50,498.16 L485.54,493.30 L488.65,488.35 L491.82,483.30 L495.05,478.15 L498.36,472.90 L501.75,467.53 L505.20,462.06 L508.74,456.46 L512.36,450.74 M436.43,641.95 L438.04,639.18 L439.68,636.38 L441.33,633.55 L443.01,630.69 L444.70,627.79 L446.42,624.87 L448.15,621.91 L449.91,618.91 L451.69,615.88 L453.49,612.81 L455.32,609.71 L457.17,606.57 L459.05,603.39 L460.95,600.17 L462.88,596.91 L464.83,593.61 L466.81,590.26 L468.82,586.87 L470.86,583.44 L472.93,579.96 L475.03,576.43 L477.16,572.85 L479.32,569.22 L481.52,565.54 L483.75,561.81 L486.01,558.02 L488.31,554.18 L490.65,550.28 L493.03,546.32 L495.45,542.29 L497.91,538.20 L500.41,534.05 L502.95,529.83 L505.55,525.54 L508.18,521.17 L510.87,516.73 L513.61,512.21 L516.40,507.61 L519.25,502.93 L522.15,498.16 L525.11,493.30 L528.13,488.35 L531.21,483.30 L534.36,478.15 L537.58,472.90 L540.88,467.53 L544.24,462.06 L547.69,456.46 L551.21,450.74 M467.51,641.95 L469.09,639.18 L470.69,636.38 L472.30,633.55 L473.93,630.69 L475.59,627.79 L477.26,624.87 L478.96,621.91 L480.67,618.91 L482.41,615.88 L484.17,612.81 L485.96,609.71 L487.77,606.57 L489.60,603.39 L491.45,600.17 L493.34,596.91 L495.25,593.61 L497.18,590.26 L499.14,586.87 L501.14,583.44 L503.16,579.96 L505.21,576.43 L507.29,572.85 L509.40,569.22 L511.55,565.54 L513.73,561.81 L515.94,558.02 L518.19,554.18 L520.48,550.28 L522.81,546.32 L525.17,542.29 L527.57,538.20 L530.02,534.05 L532.51,529.83 L535.05,525.54 L537.63,521.17 L540.26,516.73 L542.94,512.21 L545.67,507.61 L548.45,502.93 L551.29,498.16 L554.19,493.30 L557.15,488.35 L560.17,483.30 L563.26,478.15 L566.41,472.90 L569.63,467.53 L572.93,462.06 L576.30,456.46 L579.76,450.74 M492.28,641.95 L493.82,639.18 L495.39,636.38 L496.97,633.55 L498.57,630.69 L500.19,627.79 L501.83,624.87 L503.49,621.91 L505.18,618.91 L506.88,615.88 L508.61,612.81 L510.36,609.71 L512.13,606.57 L513.93,603.39 L515.75,600.17 L517.59,596.91 L519.46,593.61 L521.36,590.26 L523.29,586.87 L525.24,583.44 L527.22,579.96 L529.24,576.43 L531.28,572.85 L533.35,569.22 L535.46,565.54 L537.60,561.81 L539.77,558.02 L541.98,554.18 L544.23,550.28 L546.51,546.32 L548.83,542.29 L551.19,538.20 L553.59,534.05 L556.04,529.83 L558.53,525.54 L561.07,521.17 L563.65,516.73 L566.28,512.21 L568.96,507.61 L571.70,502.93 L574.49,498.16 L577.34,493.30 L580.24,488.35 L583.21,483.30 L586.24,478.15 L589.34,472.90 L592.51,467.53 L595.76,462.06 L599.07,456.46 L602.47,450.74 M522.12,641.95 L523.63,639.18 L525.15,636.38 L526.70,633.55 L528.26,630.69 L529.84,627.79 L531.44,624.87 L533.06,621.91 L534.70,618.91 L536.36,615.88 L538.05,612.81 L539.76,609.71 L541.49,606.57 L543.24,603.39 L545.02,600.17 L546.82,596.91 L548.65,593.61 L550.50,590.26 L552.38,586.87 L554.29,583.44 L556.22,579.96 L558.19,576.43 L560.18,572.85 L562.21,569.22 L564.26,565.54 L566.35,561.81 L568.48,558.02 L570.64,554.18 L572.83,550.28 L575.06,546.32 L577.33,542.29 L579.64,538.20 L581.99,534.05 L584.38,529.83 L586.81,525.54 L589.29,521.17 L591.82,516.73 L594.39,512.21 L597.01,507.61 L599.69,502.93 L602.42,498.16 L605.21,493.30 L608.05,488.35 L610.96,483.30 L613.92,478.15 L616.96,472.90 L620.06,467.53 L623.23,462.06 L626.48,456.46 L629.81,450.74 M546.30,641.95 L547.78,639.18 L549.27,636.38 L550.78,633.55 L552.31,630.69 L553.85,627.79 L555.42,624.87 L557.01,621.91 L558.62,618.91 L560.24,615.88 L561.89,612.81 L563.57,609.71 L565.26,606.57 L566.98,603.39 L568.72,600.17 L570.49,596.91 L572.28,593.61 L574.09,590.26 L575.93,586.87 L577.80,583.44 L579.70,579.96 L581.63,576.43 L583.58,572.85 L585.57,569.22 L587.59,565.54 L589.64,561.81 L591.72,558.02 L593.83,554.18 L595.99,550.28 L598.17,546.32 L600.40,542.29 L602.66,538.20 L604.97,534.05 L607.31,529.83 L609.70,525.54 L612.14,521.17 L614.61,516.73 L617.14,512.21 L619.72,507.61 L622.34,502.93 L625.02,498.16 L627.76,493.30 L630.55,488.35 L633.41,483.30 L636.32,478.15 L639.30,472.90 L642.35,467.53 L645.47,462.06 L648.66,456.46 L651.93,450.74 M572.82,641.95 L574.26,639.18 L575.72,636.38 L577.19,633.55 L578.68,630.69 L580.19,627.79 L581.72,624.87 L583.27,621.91 L584.84,618.91 L586.43,615.88 L588.05,612.81 L589.68,609.71 L591.33,606.57 L593.01,603.39 L594.71,600.17 L596.44,596.91 L598.19,593.61 L599.96,590.26 L601.76,586.87 L603.59,583.44 L605.45,579.96 L607.33,576.43 L609.24,572.85 L611.18,569.22 L613.16,565.54 L615.16,561.81 L617.20,558.02 L619.27,554.18 L621.37,550.28 L623.51,546.32 L625.69,542.29 L627.91,538.20 L630.16,534.05 L632.46,529.83 L634.79,525.54 L637.18,521.17 L639.60,516.73 L642.08,512.21 L644.60,507.61 L647.17,502.93 L649.80,498.16 L652.48,493.30 L655.21,488.35 L658.01,483.30 L660.86,478.15 L663.79,472.90 L666.77,467.53 L669.83,462.06 L672.96,456.46 L676.16,450.74 M599.88,641.95 L601.28,639.18 L602.70,636.38 L604.14,633.55 L605.59,630.69 L607.06,627.79 L608.56,624.87 L610.07,621.91 L611.60,618.91 L613.15,615.88 L614.72,612.81 L616.31,609.71 L617.93,606.57 L619.57,603.39 L621.23,600.17 L622.91,596.91 L624.62,593.61 L626.35,590.26 L628.11,586.87 L629.89,583.44 L631.70,579.96 L633.54,576.43 L635.41,572.85 L637.30,569.22 L639.23,565.54 L641.19,561.81 L643.18,558.02 L645.20,554.18 L647.26,550.28 L649.35,546.32 L651.48,542.29 L653.64,538.20 L655.85,534.05 L658.09,529.83 L660.38,525.54 L662.70,521.17 L665.08,516.73 L667.50,512.21 L669.96,507.61 L672.48,502.93 L675.05,498.16 L677.67,493.30 L680.35,488.35 L683.08,483.30 L685.88,478.15 L688.74,472.90 L691.66,467.53 L694.66,462.06 L697.72,456.46 L700.86,450.74 M622.36,641.95 L623.73,639.18 L625.12,636.38 L626.53,633.55 L627.95,630.69 L629.39,627.79 L630.85,624.87 L632.33,621.91 L633.83,618.91 L635.35,615.88 L636.89,612.81 L638.45,609.71 L640.03,606.57 L641.63,603.39 L643.25,600.17 L644.90,596.91 L646.57,593.61 L648.27,590.26 L649.99,586.87 L651.74,583.44 L653.51,579.96 L655.31,576.43 L657.14,572.85 L659.00,569.22 L660.89,565.54 L662.81,561.81 L664.76,558.02 L666.74,554.18 L668.75,550.28 L670.81,546.32 L672.89,542.29 L675.01,538.20 L677.18,534.05 L679.38,529.83 L681.62,525.54 L683.90,521.17 L686.23,516.73 L688.61,512.21 L691.03,507.61 L693.50,502.93 L696.02,498.16 L698.59,493.30 L701.22,488.35 L703.90,483.30 L706.65,478.15 L709.45,472.90 L712.33,467.53 L715.27,462.06 L718.28,456.46 L721.36,450.74 M645.16,641.95 L646.50,639.18 L647.86,636.38 L649.23,633.55 L650.62,630.69 L652.03,627.79 L653.46,624.87 L654.90,621.91 L656.37,618.91 L657.85,615.88 L659.36,612.81 L660.88,609.71 L662.43,606.57 L663.99,603.39 L665.58,600.17 L667.20,596.91 L668.83,593.61 L670.49,590.26 L672.18,586.87 L673.88,583.44 L675.62,579.96 L677.38,576.43 L679.17,572.85 L680.99,569.22 L682.84,565.54 L684.72,561.81 L686.63,558.02 L688.57,554.18 L690.54,550.28 L692.55,546.32 L694.60,542.29 L696.68,538.20 L698.79,534.05 L700.95,529.83 L703.15,525.54 L705.39,521.17 L707.67,516.73 L709.99,512.21 L712.37,507.61 L714.79,502.93 L717.26,498.16 L719.78,493.30 L722.36,488.35 L724.99,483.30 L727.69,478.15 L730.44,472.90 L733.26,467.53 L736.14,462.06 L739.10,456.46 L742.12,450.74 M664.66,641.95 L665.97,639.18 L667.30,636.38 L668.65,633.55 L670.01,630.69 L671.39,627.79 L672.79,624.87 L674.21,621.91 L675.64,618.91 L677.10,615.88 L678.57,612.81 L680.07,609.71 L681.58,606.57 L683.12,603.39 L684.68,600.17 L686.26,596.91 L687.86,593.61 L689.49,590.26 L691.14,586.87 L692.82,583.44 L694.52,579.96 L696.25,576.43 L698.01,572.85 L699.79,569.22 L701.61,565.54 L703.45,561.81 L705.32,558.02 L707.23,554.18 L709.17,550.28 L711.14,546.32 L713.15,542.29 L715.19,538.20 L717.27,534.05 L719.39,529.83 L721.55,525.54 L723.75,521.17 L725.99,516.73 L728.27,512.21 L730.61,507.61 L732.99,502.93 L735.42,498.16 L737.90,493.30 L740.43,488.35 L743.02,483.30 L745.67,478.15 L748.38,472.90 L751.15,467.53 L753.98,462.06 L756.89,456.46 L759.87,450.74 " stroke="#1e90ff" stroke-opacity="0.85" stroke-width="1.667" stroke-dasharray="1.67 2.75"/>
<path d="M457.60,35.20 L456.90,36.34 L456.20,37.47 L455.50,38.61 L454.80,39.75 L454.11,40.90 L453.41,42.04 L452.72,43.19 L452.03,44.34 L451.34,45.49 L450.66,46.64 L449.97,47.80 L449.29,48.95 L448.60,50.11 L447.92,51.27 L447.23,52.43 L446.55,53.59 L445.87,54.75 L445.19,55.91 L444.50,57.07 L443.82,58.23 L443.14,59.39 L442.46,60.55 L441.77,61.72 L441.09,62.88 L440.40,64.04 L439.72,65.20 L439.03,66.36 L438.34,67.52 L437.65,68.68 L436.96,69.84 L436.26,70.99 L435.57,72.15 L434.87,73.30 L434.17,74.46 L433.47,75.61 L432.76,76.76 L432.05,77.91 L431.34,79.05 L430.63,80.20 L429.92,81.34 L429.20,82.48 L428.47,83.62 L427.75,84.75 L427.02,85.88 L426.29,87.01 L425.55,88.14 L424.81,89.26 L424.06,90.38 L423.31,91.50 L422.56,92.62 L421.80,93.73 L421.03,94.83 L420.27,95.94 L419.49,97.03 L418.71,98.13 L417.93,99.22 L417.14,100.31 L416.34,101.39 L415.54,102.47 L414.74,103.54 L413.92,104.61 L413.10,105.67 L412.28,106.73 L411.45,107.79 L410.61,108.83 L409.77,109.88 L408.92,110.92 L408.06,111.96 L407.21,112.99 L406.34,114.02 L405.48,115.05 L404.61,116.07 L403.73,117.09 L402.86,118.11 L401.98,119.12 L401.09,120.14 L400.21,121.15 L399.32,122.16 L398.43,123.17 L397.54,124.18 L396.65,125.18 L395.76,126.19 L394.87,127.20 L393.97,128.20 L393.08,129.21 L392.19,130.21 L391.30,131.22 L390.41,132.23 L389.52,133.24 L388.63,134.25 L387.75,135.26 L386.86,136.27 L385.98,137.29 L385.11,138.31 L384.23,139.33 L383.36,140.35 L382.49,141.38 L381.63,142.41 L380.77,143.44 L379.92,144.47 L379.07,145.51 L378.22,146.56 L377.39,147.61 L376.55,148.66 L375.73,149.72 L374.91,150.78 L374.10,151.85 L373.29,152.92 L372.49,154.00 L371.70,155.09 L370.92,156.18 L370.14,157.28 L369.38,158.39 L368.62,159.50 L367.87,160.62 L367.12,161.74 L366.37,162.86 L365.63,163.98 L364.88,165.10 L364.14,166.22 L363.38,167.33 L362.63,168.44 L361.86,169.55 L361.09,170.64 L360.31,171.73 L359.51,172.81 L358.70,173.87 L357.88,174.92 L357.05,175.97 L356.21,177.00 L355.35,178.03 L354.49,179.05 L353.63,180.07 L352.75,181.08 L351.87,182.09 L350.99,183.10 L350.11,184.11 L349.23,185.11 L348.34,186.12 L347.46,187.13 L346.58,188.15 L345.71,189.17 L344.84,190.19 L343.97,191.23 L343.11,192.26 L342.26,193.30 L341.40,194.35 L340.55,195.39 L339.70,196.44 L338.85,197.50 L338.00,198.55 L337.16,199.60 L336.31,200.66 L335.46,201.71 L334.62,202.77 L333.77,203.82 L332.92,204.87 L332.06,205.92 L331.21,206.96 L330.35,208.01 L329.48,209.04 L328.61,210.08 L327.74,211.11 L326.86,212.13 L325.98,213.14 L325.09,214.15 L324.19,215.15 L323.29,216.15 L322.37,217.13 L321.45,218.11 L320.52,219.08 L319.58,220.03 L318.63,220.98 L317.67,221.91 L316.70,222.83 L315.72,223.74 L314.74,224.65 L313.74,225.54 L312.73,226.42 L311.72,227.30 L310.70,228.16 L309.67,229.02 L308.63,229.88 L307.59,230.72 L306.55,231.56 L305.50,232.40 L304.44,233.23 L303.38,234.05 L302.31,234.87 L301.25,235.69 L300.18,236.51 L299.10,237.32 L298.03,238.13 L296.96,238.94 L295.88,239.75 L294.80,240.56 L293.72,241.37 L292.65,242.17 L291.57,242.99 L290.50,243.80 L289.42,244.61 L288.35,245.43 L287.29,246.25 L286.22,247.08 L285.16,247.91 L284.11,248.74 L283.05,249.58 L282.01,250.43 L280.97,251.28 L279.93,252.14 L278.90,253.01 L277.88,253.89 L276.87,254.77 L275.86,255.66 L274.86,256.57 L273.87,257.48 L272.89,258.40 L271.92,259.34 L270.96,260.28 L270.01,261.24 L269.07,262.21 L268.15,263.20 L267.23,264.19 L266.33,265.20 L265.45,266.22 L264.58,267.25 L263.73,268.30 L262.89,269.36 L262.07,270.43 L261.28,271.51 L260.50,272.60 L259.74,273.71 L259.01,274.83 L258.29,275.96 L257.61,277.10 L256.94,278.26 L256.30,279.42 L255.69,280.60 L255.10,281.79 L254.54,282.99 L254.00,284.21 L253.49,285.43 L253.00,286.66 L252.54,287.90 L252.09,289.16 L251.67,290.42 L251.27,291.69 L250.89,292.96 L250.53,294.25 L250.19,295.54 L249.86,296.84 L249.55,298.15 L249.26,299.46 L248.99,300.78 L248.73,302.10 L248.49,303.43 L248.26,304.77 L248.04,306.10 L247.84,307.45 L247.65,308.79 L247.47,310.14 L247.30,311.49 L247.14,312.84 L246.99,314.20 L246.85,315.55 L246.72,316.91 L246.60,318.27 L246.49,319.63 L246.39,320.99 L246.30,322.35 L246.22,323.71 L246.15,325.07 L246.09,326.43 L246.05,327.79 L246.01,329.15 L245.99,330.51 L245.99,331.87 L245.99,333.23 L246.01,334.58 L246.05,335.93 L246.09,337.28 L246.16,338.63 L246.23,339.98 L246.33,341.32 L246.43,342.66 L246.56,344.00 L246.70,345.33 L246.85,346.66 L247.03,347.99 L247.22,349.31 L247.43,350.63 L247.66,351.94 L247.90,353.25 L248.17,354.55 L248.45,355.85 L248.75,357.15 L249.07,358.43 L249.41,359.71 L249.78,360.99 L250.16,362.26 L250.57,363.52 L250.99,364.78 L251.44,366.03 L251.91,367.27 L252.40,368.51 L252.91,369.74 L253.45,370.96 L254.01,372.17 L254.59,373.38 L255.18,374.58 L255.80,375.77 L256.43,376.96 L257.07,378.14 L257.73,379.32 L258.40,380.49 L259.09,381.66 L259.79,382.82 L260.49,383.98 L261.21,385.13 L261.94,386.29 L262.67,387.43 L263.40,388.58 L264.15,389.72 L264.89,390.86 L265.64,392.00 L266.39,393.14 L267.14,394.27 L267.89,395.41 L268.64,396.54 L269.39,397.67 L270.13,398.81 L270.87,399.94 L271.60,401.07 L272.33,402.20 L273.06,403.34 L273.78,404.47 L274.50,405.60 L275.22,406.73 L275.93,407.87 L276.64,409.00 L277.35,410.14 L278.06,411.27 L278.76,412.41 L279.46,413.54 L280.16,414.68 L280.86,415.82 L281.55,416.96 L282.25,418.10 L282.94,419.24 L283.63,420.38 L284.32,421.52 L285.01,422.67 L285.70,423.81 L286.39,424.96 L287.07,426.11 L287.76,427.26 L288.44,428.41 L289.13,429.56 L289.82,430.72 L290.50,431.87 L291.19,433.03 L291.87,434.19 L292.55,435.35 L293.23,436.52 L293.91,437.69 L294.58,438.86 L295.25,440.03 L295.91,441.21 L296.57,442.39 L297.22,443.57 L297.86,444.75 L298.50,445.94 L299.12,447.14 L299.74,448.33 L300.35,449.54 L300.95,450.74 L301.54,451.95 L302.12,453.17 L302.69,454.39 L303.24,455.61 L303.78,456.84 L304.31,458.07 L304.83,459.31 L305.33,460.56 L305.81,461.81 L306.28,463.07 L306.73,464.33 L307.16,465.60 L307.58,466.87 L307.98,468.15 L308.36,469.44 L308.72,470.74 L309.06,472.04 L309.38,473.35 L309.68,474.66 L309.96,475.99 L310.21,477.32 L310.44,478.65 L310.65,480.00 L310.73,480.52 L310.81,481.04 L310.89,481.56 L310.97,482.09 L311.05,482.61 L311.13,483.13 L311.21,483.66 L311.30,484.18 L311.38,484.71 L311.47,485.23 L311.55,485.76 L311.64,486.28 L311.73,486.81 L311.82,487.33 L311.91,487.86 L312.00,488.38 L312.10,488.91 L312.19,489.43 L312.29,489.95 L312.39,490.48 L312.49,491.00 L312.59,491.53 L312.70,492.05 L312.80,492.57 L312.91,493.10 L313.02,493.62 L313.13,494.14 L313.25,494.66 L313.37,495.18 L313.49,495.70 L313.61,496.22 L313.73,496.74 L313.86,497.25 L313.99,497.77 L314.12,498.29 L314.26,498.80 L314.40,499.31 L314.54,499.83 L314.68,500.34 L314.83,500.85 L314.98,501.36 L315.14,501.87 L315.29,502.37 L315.45,502.88 L315.62,503.38 L315.79,503.88 L315.96,504.39 L316.13,504.88 L316.31,505.38 L316.49,505.88 L316.68,506.37 L316.87,506.87 L317.06,507.36 L317.26,507.85 L317.46,508.34 L317.67,508.82 L317.88,509.31 L318.09,509.79 L318.30,510.28 L318.52,510.76 L318.74,511.24 L318.97,511.72 L319.19,512.20 L319.42,512.68 L319.65,513.16 L319.88,513.64 L320.12,514.11 L320.36,514.59 L320.59,515.07 L320.83,515.54 L321.07,516.02 L321.31,516.50 L321.55,516.98 L321.80,517.45 L322.04,517.93 L322.28,518.41 L322.53,518.89 L322.77,519.37 L323.01,519.85 L323.26,520.33 L323.50,520.82 L323.74,521.30 L323.98,521.79 L324.21,522.27 L324.44,522.76 L324.66,523.25 L324.88,523.75 L325.08,524.24 L325.27,524.74 L325.44,525.24 L325.60,525.75 L325.74,526.26 L325.87,526.77 L325.97,527.28 L326.06,527.80 L326.13,528.32 L326.19,528.84 L326.23,529.36 L326.25,529.89 L326.26,530.42 L326.25,530.94 L326.22,531.47 L326.19,532.00 L326.13,532.53 L326.07,533.05 L325.98,533.58 L325.89,534.10 L325.78,534.63 L325.66,535.15 L325.53,535.67 L325.39,536.19 L325.23,536.70 L325.07,537.22 L324.89,537.72 L324.70,538.23 L324.51,538.73 L324.30,539.23 L324.08,539.72 L323.86,540.21 L323.62,540.69 L323.38,541.17 L323.13,541.64 L322.87,542.11 L322.60,542.57 L322.33,543.02 L322.05,543.46 L321.77,543.90 L321.47,544.34 L321.17,544.76 L320.87,545.18 L320.56,545.60 L320.24,546.01 L319.92,546.41 L319.59,546.81 L319.25,547.21 L318.91,547.59 L318.57,547.98 L318.21,548.36 L317.86,548.74 L317.50,549.11 L317.13,549.48 L316.76,549.85 L316.38,550.21 L316.00,550.57 L315.62,550.93 L315.23,551.29 L314.83,551.64 L314.43,551.99 L314.03,552.34 L313.62,552.69 L313.21,553.03 L312.80,553.38 L312.38,553.72 L311.96,554.07 L311.53,554.41 L311.11,554.75 L310.67,555.09 L310.24,555.43 L309.80,555.78 L309.36,556.12 L308.92,556.46 L308.47,556.81 L308.03,557.15 L307.58,557.50 L307.14,557.85 L306.69,558.20 L306.26,558.56 L305.82,558.92 L305.40,559.28 L304.99,559.65 L304.58,560.03 L304.19,560.41 L303.81,560.79 L303.45,561.19 L303.11,561.59 L302.78,561.99 L302.47,562.41 L302.19,562.83 L301.93,563.27 L301.69,563.71 L301.48,564.16 L301.29,564.63 L301.14,565.10 L301.01,565.58 L300.92,566.08 L300.86,566.58 L300.83,567.08 L300.83,567.58 L300.86,568.08 L300.93,568.58 L301.04,569.07 L301.18,569.55 L301.35,570.02 L301.56,570.48 L301.81,570.93 L302.08,571.37 L302.38,571.80 L302.70,572.22 L303.04,572.64 L303.39,573.05 L303.76,573.45 L304.14,573.85 L304.53,574.25 L304.92,574.65 L305.32,575.05 L305.71,575.45 L306.10,575.85 L306.48,576.25 L306.85,576.66 L307.20,577.07 L307.54,577.49 L307.86,577.92 L308.16,578.36 L308.43,578.80 L308.68,579.25 L308.92,579.71 L309.14,580.18 L309.34,580.65 L309.53,581.13 L309.71,581.61 L309.87,582.10 L310.03,582.59 L310.18,583.08 L310.32,583.58 L310.46,584.08 L310.60,584.58 L310.73,585.08 L310.86,585.59 L311.00,586.09 L311.14,586.59 L311.28,587.10 L311.43,587.60 L311.59,588.10 L311.75,588.60 L311.93,589.09 L312.11,589.58 L312.31,590.07 L312.52,590.55 L312.74,591.02 L312.97,591.49 L313.23,591.95 L313.49,592.40 L313.78,592.85 L314.08,593.28 L314.40,593.71 L314.75,594.12 L315.11,594.53 L315.49,594.92 L315.90,595.30 L316.25,595.73 L316.59,596.17 L316.91,596.62 L317.22,597.07 L317.52,597.53 L317.81,597.99 L318.09,598.46 L318.36,598.94 L318.62,599.41 L318.87,599.89 L319.12,600.38 L319.37,600.86 L319.61,601.35 L319.85,601.83 L320.08,602.32 L320.32,602.81 L320.55,603.30 L320.79,603.78 L321.03,604.26 L321.27,604.75 L321.52,605.22 L321.76,605.70 L322.02,606.17 L322.27,606.64 L322.54,607.11 L322.80,607.58 L323.07,608.04 L323.35,608.50 L323.63,608.95 L323.92,609.41 L324.21,609.86 L324.52,610.30 L324.82,610.74 L325.14,611.18 L325.46,611.62 L325.79,612.05 L326.12,612.47 L326.47,612.89 L326.82,613.31 L327.18,613.73 L327.55,614.14 L327.91,614.55 L328.29,614.96 L328.66,615.37 L329.04,615.77 L329.42,616.18 L329.80,616.58 L330.19,616.99 L330.57,617.39 L330.94,617.80 L331.32,618.20 L331.69,618.61 L332.06,619.02 L332.43,619.43 L332.79,619.85 L333.14,620.27 L333.48,620.69 L333.82,621.12 L334.15,621.55 L334.47,621.98 L334.77,622.42 L335.07,622.87 L335.35,623.32 L335.63,623.78 L335.88,624.25 L336.13,624.72 L336.35,625.20 L336.57,625.69 L336.76,626.18 L336.94,626.69 L337.10,627.20 L337.24,627.73 L337.35,628.26 L337.45,628.81 L337.53,629.36 L337.58,629.93 L337.61,630.51 L337.62,631.10 L337.60,631.70" stroke="#ff0000" stroke-width="2.5" stroke-linejoin="round"/>
<path d="M393.30,35.20 L392.45,36.31 L391.60,37.42 L390.75,38.53 L389.89,39.63 L389.03,40.74 L388.16,41.83 L387.29,42.93 L386.42,44.02 L385.54,45.11 L384.66,46.19 L383.77,47.28 L382.89,48.36 L381.99,49.43 L381.10,50.51 L380.21,51.58 L379.31,52.66 L378.40,53.72 L377.50,54.79 L376.59,55.86 L375.69,56.92 L374.78,57.98 L373.86,59.04 L372.95,60.10 L372.03,61.16 L371.11,62.22 L370.19,63.27 L369.27,64.32 L368.35,65.38 L367.43,66.43 L366.50,67.48 L365.58,68.53 L364.65,69.58 L363.73,70.63 L362.80,71.68 L361.87,72.72 L360.95,73.77 L360.02,74.82 L359.09,75.87 L358.16,76.91 L357.23,77.96 L356.31,79.01 L355.38,80.06 L354.45,81.10 L353.53,82.15 L352.60,83.20 L351.68,84.25 L350.75,85.30 L349.83,86.36 L348.91,87.41 L347.99,88.46 L347.07,89.52 L346.16,90.57 L345.24,91.63 L344.33,92.69 L343.42,93.75 L342.51,94.81 L341.60,95.88 L340.70,96.94 L339.80,98.01 L338.90,99.08 L338.00,100.15 L337.11,101.22 L336.22,102.30 L335.33,103.38 L334.44,104.46 L333.56,105.54 L332.68,106.63 L331.81,107.72 L330.94,108.81 L330.07,109.90 L329.20,110.99 L328.33,112.09 L327.47,113.19 L326.62,114.29 L325.76,115.39 L324.91,116.50 L324.06,117.61 L323.21,118.72 L322.37,119.83 L321.53,120.95 L320.69,122.06 L319.85,123.18 L319.02,124.30 L318.19,125.43 L317.37,126.55 L316.54,127.68 L315.72,128.81 L314.90,129.94 L314.09,131.08 L313.27,132.21 L312.46,133.35 L311.66,134.49 L310.85,135.63 L310.05,136.78 L309.25,137.92 L308.45,139.07 L307.66,140.22 L306.87,141.37 L306.08,142.53 L305.29,143.69 L304.51,144.84 L303.73,146.00 L302.95,147.16 L302.18,148.33 L301.40,149.49 L300.63,150.66 L299.86,151.83 L299.10,153.00 L298.34,154.18 L297.58,155.35 L296.82,156.53 L296.06,157.71 L295.31,158.89 L294.56,160.07 L293.81,161.25 L293.07,162.44 L292.32,163.62 L291.58,164.81 L290.85,166.00 L290.11,167.20 L289.38,168.39 L288.65,169.59 L287.92,170.78 L287.19,171.98 L286.47,173.19 L285.75,174.39 L285.03,175.59 L284.32,176.80 L283.61,178.01 L282.91,179.22 L282.22,180.44 L281.52,181.66 L280.84,182.88 L280.16,184.10 L279.50,185.33 L278.83,186.56 L278.18,187.80 L277.54,189.04 L276.90,190.28 L276.28,191.53 L275.66,192.78 L275.06,194.04 L274.46,195.30 L273.88,196.56 L273.31,197.83 L272.75,199.11 L272.21,200.39 L271.67,201.68 L271.16,202.97 L270.65,204.26 L270.16,205.57 L269.69,206.88 L269.23,208.19 L268.78,209.51 L268.34,210.84 L267.91,212.16 L267.49,213.50 L267.07,214.83 L266.65,216.17 L266.24,217.51 L265.84,218.85 L265.43,220.19 L265.02,221.53 L264.60,222.87 L264.18,224.21 L263.76,225.55 L263.33,226.89 L262.89,228.23 L262.43,229.56 L261.97,230.89 L261.50,232.22 L261.02,233.55 L260.55,234.88 L260.07,236.20 L259.61,237.52 L259.17,238.85 L258.74,240.17 L258.34,241.50 L257.96,242.83 L257.62,244.16 L257.32,245.49 L257.06,246.83 L256.85,248.17 L256.69,249.52 L256.59,250.87 L256.55,252.23 L256.58,253.59 L256.68,254.96 L256.85,256.34 L257.08,257.72 L257.37,259.10 L257.70,260.49 L258.07,261.87 L258.48,263.25 L258.90,264.62 L259.35,265.98 L259.80,267.33 L260.25,268.67 L260.70,270.00 L259.92,270.91 L259.18,271.83 L258.46,272.77 L257.77,273.71 L257.12,274.66 L256.49,275.63 L255.89,276.61 L255.31,277.59 L254.76,278.59 L254.24,279.59 L253.74,280.61 L253.27,281.63 L252.81,282.66 L252.38,283.70 L251.98,284.75 L251.59,285.80 L251.23,286.87 L250.88,287.94 L250.55,289.01 L250.24,290.10 L249.95,291.19 L249.68,292.28 L249.42,293.39 L249.17,294.50 L248.95,295.61 L248.73,296.73 L248.53,297.85 L248.34,298.98 L248.16,300.11 L248.00,301.25 L247.84,302.39 L247.70,303.54 L247.56,304.68 L247.43,305.83 L247.31,306.99 L247.20,308.14 L247.09,309.30 L246.99,310.46 L246.89,311.63 L246.80,312.79 L246.71,313.95 L246.62,315.12 L246.54,316.29 L246.46,317.45 L246.38,318.62 L246.31,319.79 L246.24,320.96 L246.17,322.13 L246.11,323.30 L246.05,324.47 L246.00,325.63 L245.96,326.80 L245.92,327.97 L245.89,329.14 L245.86,330.30 L245.84,331.47 L245.83,332.63 L245.83,333.80 L245.83,334.96 L245.84,336.12 L245.86,337.28 L245.89,338.44 L245.93,339.60 L245.97,340.75 L246.03,341.90 L246.10,343.05 L246.17,344.20 L246.26,345.35 L246.36,346.49 L246.47,347.63 L246.59,348.77 L246.72,349.91 L246.87,351.04 L247.03,352.17 L247.20,353.29 L247.38,354.42 L247.58,355.54 L247.79,356.65 L248.01,357.76 L248.25,358.87 L248.51,359.98 L248.78,361.08 L249.06,362.17 L249.36,363.27 L249.68,364.35 L250.01,365.44 L250.36,366.51 L250.72,367.59 L251.10,368.66 L251.50,369.72 L251.92,370.78 L252.35,371.83 L252.80,372.88 L253.27,373.92 L253.74,374.96 L254.23,376.00 L254.74,377.03 L255.25,378.06 L255.78,379.09 L256.31,380.11 L256.86,381.13 L257.42,382.14 L257.98,383.16 L258.55,384.17 L259.13,385.18 L259.71,386.18 L260.30,387.18 L260.90,388.19 L261.49,389.18 L262.10,390.18 L262.70,391.18 L263.31,392.17 L263.91,393.17 L264.52,394.16 L265.13,395.15 L265.74,396.14 L266.34,397.14 L266.94,398.13 L267.54,399.12 L268.14,400.11 L268.74,401.10 L269.33,402.09 L269.92,403.08 L270.50,404.07 L271.09,405.06 L271.67,406.05 L272.25,407.04 L272.83,408.03 L273.41,409.02 L273.99,410.01 L274.57,410.99 L275.15,411.98 L275.72,412.97 L276.30,413.96 L276.87,414.94 L277.45,415.93 L278.02,416.92 L278.60,417.90 L279.18,418.89 L279.75,419.87 L280.33,420.86 L280.91,421.84 L281.49,422.83 L282.07,423.81 L282.66,424.79 L283.25,425.78 L283.83,426.76 L284.42,427.74 L285.02,428.72 L285.61,429.70 L286.21,430.68 L286.81,431.66 L287.42,432.64 L288.02,433.61 L288.63,434.59 L289.23,435.57 L289.84,436.55 L290.45,437.53 L291.06,438.51 L291.66,439.49 L292.27,440.47 L292.87,441.46 L293.47,442.44 L294.07,443.43 L294.66,444.41 L295.25,445.40 L295.84,446.40 L296.43,447.39 L297.00,448.39 L297.58,449.39 L298.15,450.39 L298.71,451.39 L299.27,452.40 L299.82,453.41 L300.36,454.43 L300.89,455.44 L301.42,456.47 L301.94,457.49 L302.45,458.52 L302.95,459.55 L303.44,460.59 L303.92,461.64 L304.39,462.68 L304.85,463.73 L305.30,464.79 L305.74,465.85 L306.17,466.92 L306.59,467.99 L307.00,469.06 L307.40,470.14 L307.80,471.22 L308.18,472.30 L308.56,473.39 L308.93,474.49 L309.29,475.58 L309.64,476.68 L309.98,477.78 L310.32,478.89 L310.65,480.00 L310.73,480.52 L310.81,481.04 L310.89,481.56 L310.97,482.09 L311.05,482.61 L311.13,483.13 L311.21,483.66 L311.30,484.18 L311.38,484.71 L311.47,485.23 L311.55,485.76 L311.64,486.28 L311.73,486.81 L311.82,487.33 L311.91,487.86 L312.00,488.38 L312.10,488.91 L312.19,489.43 L312.29,489.95 L312.39,490.48 L312.49,491.00 L312.59,491.53 L312.70,492.05 L312.80,492.57 L312.91,493.10 L313.02,493.62 L313.13,494.14 L313.25,494.66 L313.37,495.18 L313.49,495.70 L313.61,496.22 L313.73,496.74 L313.86,497.25 L313.99,497.77 L314.12,498.29 L314.26,498.80 L314.40,499.31 L314.54,499.83 L314.68,500.34 L314.83,500.85 L314.98,501.36 L315.14,501.87 L315.29,502.37 L315.45,502.88 L315.62,503.38 L315.79,503.88 L315.96,504.39 L316.13,504.88 L316.31,505.38 L316.49,505.88 L316.68,506.37 L316.87,506.87 L317.06,507.36 L317.26,507.85 L317.46,508.34 L317.67,508.82 L317.88,509.31 L318.09,509.79 L318.30,510.28 L318.52,510.76 L318.74,511.24 L318.97,511.72 L319.19,512.20 L319.42,512.68 L319.65,513.16 L319.88,513.64 L320.12,514.11 L320.36,514.59 L320.59,515.07 L320.83,515.54 L321.07,516.02 L321.31,516.50 L321.55,516.98 L321.80,517.45 L322.04,517.93 L322.28,518.41 L322.53,518.89 L322.77,519.37 L323.01,519.85 L323.26,520.33 L323.50,520.82 L323.74,521.30 L323.98,521.79 L324.21,522.27 L324.44,522.76 L324.66,523.25 L324.88,523.75 L325.08,524.24 L325.27,524.74 L325.44,525.24 L325.60,525.75 L325.74,526.26 L325.87,526.77 L325.97,527.28 L326.06,527.80 L326.13,528.32 L326.19,528.84 L326.23,529.36 L326.25,529.89 L326.26,530.42 L326.25,530.94 L326.22,531.47 L326.19,532.00 L326.13,532.53 L326.07,533.05 L325.98,533.58 L325.89,534.10 L325.78,534.63 L325.66,535.15 L325.53,535.67 L325.39,536.19 L325.23,536.70 L325.07,537.22 L324.89,537.72 L324.70,538.23 L324.51,538.73 L324.30,539.23 L324.08,539.72 L323.86,540.21 L323.62,540.69 L323.38,541.17 L323.13,541.64 L322.87,542.11 L322.60,542.57 L322.33,543.02 L322.05,543.46 L321.77,543.90 L321.47,544.34 L321.17,544.76 L320.87,545.18 L320.56,545.60 L320.24,546.01 L319.92,546.41 L319.59,546.81 L319.25,547.21 L318.91,547.59 L318.57,547.98 L318.21,548.36 L317.86,548.74 L317.50,549.11 L317.13,549.48 L316.76,549.85 L316.38,550.21 L316.00,550.57 L315.62,550.93 L315.23,551.29 L314.83,551.64 L314.43,551.99 L314.03,552.34 L313.62,552.69 L313.21,553.03 L312.80,553.38 L312.38,553.72 L311.96,554.07 L311.53,554.41 L311.11,554.75 L310.67,555.09 L310.24,555.43 L309.80,555.78 L309.36,556.12 L308.92,556.46 L308.47,556.81 L308.03,557.15 L307.58,557.50 L307.14,557.85 L306.69,558.20 L306.26,558.56 L305.82,558.92 L305.40,559.28 L304.99,559.65 L304.58,560.03 L304.19,560.41 L303.81,560.79 L303.45,561.19 L303.11,561.59 L302.78,561.99 L302.47,562.41 L302.19,562.83 L301.93,563.27 L301.69,563.71 L301.48,564.16 L301.29,564.63 L301.14,565.10 L301.01,565.58 L300.92,566.08 L300.86,566.58 L300.83,567.08 L300.83,567.58 L300.86,568.08 L300.93,568.58 L301.04,569.07 L301.18,569.55 L301.35,570.02 L301.56,570.48 L301.81,570.93 L302.08,571.37 L302.38,571.80 L302.70,572.22 L303.04,572.64 L303.39,573.05 L303.76,573.45 L304.14,573.85 L304.53,574.25 L304.92,574.65 L305.32,575.05 L305.71,575.45 L306.10,575.85 L306.48,576.25 L306.85,576.66 L307.20,577.07 L307.54,577.49 L307.86,577.92 L308.16,578.36 L308.43,578.80 L308.68,579.25 L308.92,579.71 L309.14,580.18 L309.34,580.65 L309.53,581.13 L309.71,581.61 L309.87,582.10 L310.03,582.59 L310.18,583.08 L310.32,583.58 L310.46,584.08 L310.60,584.58 L310.73,585.08 L310.86,585.59 L311.00,586.09 L311.14,586.59 L311.28,587.10 L311.43,587.60 L311.59,588.10 L311.75,588.60 L311.93,589.09 L312.11,589.58 L312.31,590.07 L312.52,590.55 L312.74,591.02 L312.97,591.49 L313.23,591.95 L313.49,592.40 L313.78,592.85 L314.08,593.28 L314.40,593.71 L314.75,594.12 L315.11,594.53 L315.49,594.92 L315.90,595.30 L315.82,595.78 L315.74,596.26 L315.67,596.73 L315.60,597.21 L315.54,597.69 L315.48,598.16 L315.43,598.64 L315.38,599.12 L315.33,599.59 L315.29,600.06 L315.26,600.54 L315.23,601.01 L315.20,601.48 L315.18,601.96 L315.17,602.43 L315.16,602.90 L315.15,603.37 L315.15,603.84 L315.16,604.31 L315.17,604.78 L315.19,605.24 L315.21,605.71 L315.24,606.18 L315.28,606.64 L315.32,607.11 L315.36,607.57 L315.42,608.03 L315.47,608.49 L315.54,608.96 L315.61,609.42 L315.68,609.87 L315.77,610.33 L315.86,610.79 L315.95,611.25 L316.05,611.70 L316.16,612.15 L316.27,612.61 L316.39,613.06 L316.52,613.51 L316.65,613.96 L316.79,614.41 L316.92,614.86 L317.07,615.31 L317.21,615.76 L317.36,616.20 L317.51,616.65 L317.67,617.10 L317.82,617.54 L317.98,617.99 L318.13,618.44 L318.29,618.88 L318.45,619.33 L318.61,619.78 L318.76,620.22 L318.91,620.67 L319.07,621.12 L319.22,621.57 L319.36,622.02 L319.51,622.47 L319.65,622.92 L319.79,623.37 L319.92,623.82 L320.05,624.27 L320.17,624.73 L320.29,625.18 L320.40,625.64 L320.50,626.09 L320.60,626.55 L320.69,627.01 L320.77,627.47 L320.85,627.94 L320.91,628.40 L320.97,628.87 L321.02,629.33 L321.06,629.80 L321.08,630.27 L321.10,630.75 L321.11,631.22 L321.10,631.70" stroke="#008000" stroke-width="2.5" stroke-linejoin="round"/>
</g>
<g clip-path="url(#ax)" font-weight="bold" text-anchor="middle">
<text x="236.3" y="53.6" font-size="12.7" fill="#1f77b4" transform="rotate(-45 236.3 53.6)" dy="0.34em">-100</text>
<text x="259.4" y="104.2" font-size="12.7" fill="#1f77b4" transform="rotate(-45 259.4 104.2)" dy="0.34em">-90</text>
<text x="285.2" y="152.1" font-size="12.7" fill="#1f77b4" transform="rotate(-45 285.2 152.1)" dy="0.34em">-80</text>
<text x="313.5" y="197.5" font-size="12.7" fill="#1f77b4" transform="rotate(-45 313.5 197.5)" dy="0.34em">-70</text>
<text x="343.9" y="240.8" font-size="12.7" fill="#1f77b4" transform="rotate(-45 343.9 240.8)" dy="0.34em">-60</text>
<text x="376.3" y="282.0" font-size="12.7" fill="#1f77b4" transform="rotate(-45 376.3 282.0)" dy="0.34em">-50</text>
<text x="410.5" y="321.5" font-size="12.7" fill="#1f77b4" transform="rotate(-45 410.5 321.5)" dy="0.34em">-40</text>
<text x="446.4" y="359.3" font-size="12.7" fill="#1f77b4" transform="rotate(-45 446.4 359.3)" dy="0.34em">-30</text>
<text x="483.8" y="395.5" font-size="12.7" fill="#1f77b4" transform="rotate(-45 483.8 395.5)" dy="0.34em">-20</text>
<text x="522.6" y="430.4" font-size="12.7" fill="#1f77b4" transform="rotate(-45 522.6 430.4)" dy="0.34em">-10</text>
<text x="562.7" y="463.9" font-size="12.7" fill="#707070" transform="rotate(-45 562.7 463.9)" dy="0.34em">0</text>
<text x="603.9" y="496.4" font-size="12.7" fill="#d62728" transform="rotate(-45 603.9 496.4)" dy="0.34em">10</text>
<text x="646.3" y="527.7" font-size="12.7" fill="#d62728" transform="rotate(-45 646.3 527.7)" dy="0.34em">20</text>
<text x="689.7" y="557.9" font-size="12.7" fill="#d62728" transform="rotate(-45 689.7 557.9)" dy="0.34em">30</text>
<text x="734.1" y="587.2" font-size="12.7" fill="#d62728" transform="rotate(-45 734.1 587.2)" dy="0.34em">40</text>
<text x="214.82" y="448.75" font-size="12.6" fill="#1e90ff" text-anchor="start" transform="rotate(-30 214.82 448.75)">0.1</text>
<text x="261.67" y="448.75" font-size="12.6" fill="#1e90ff" text-anchor="start" transform="rotate(-30 261.67 448.75)">0.2</text>
<text x="311.66" y="448.75" font-size="12.6" fill="#1e90ff" text-anchor="start" transform="rotate(-30 311.66 448.75)">0.4</text>
<text x="342.48" y="448.75" font-size="12.6" fill="#1e90ff" text-anchor="start" transform="rotate(-30 342.48 448.75)">0.6</text>
<text x="388.96" y="448.75" font-size="12.6" fill="#1e90ff" text-anchor="start" transform="rotate(-30 388.96 448.75)">1</text>
<text x="416.84" y="448.75" font-size="12.6" fill="#1e90ff" text-anchor="start" transform="rotate(-30 416.84 448.75)">1.5</text>
<text x="447.50" y="448.75" font-size="12.6" fill="#1e90ff" text-anchor="start" transform="rotate(-30 447.50 448.75)">2</text>
<text x="483.69" y="448.75" font-size="12.6" fill="#1e90ff" text-anchor="start" transform="rotate(-30 483.69 448.75)">3</text>
<text x="510.30" y="448.75" font-size="12.6" fill="#1e90ff" text-anchor="start" transform="rotate(-30 510.30 448.75)">4</text>
<text x="549.15" y="448.75" font-size="12.6" fill="#1e90ff" text-anchor="start" transform="rotate(-30 549.15 448.75)">6</text>
<text x="577.70" y="448.75" font-size="12.6" fill="#1e90ff" text-anchor="start" transform="rotate(-30 577.70 448.75)">8</text>
<text x="596.61" y="448.75" font-size="12.6" fill="#1e90ff" text-anchor="start" transform="rotate(-30 596.61 448.75)">10</text>
<text x="623.95" y="448.75" font-size="12.6" fill="#1e90ff" text-anchor="start" transform="rotate(-30 623.95 448.75)">13</text>
<text x="646.07" y="448.75" font-size="12.6" fill="#1e90ff" text-anchor="start" transform="rotate(-30 646.07 448.75)">16</text>
<text x="670.30" y="448.75" font-size="12.6" fill="#1e90ff" text-anchor="start" transform="rotate(-30 670.30 448.75)">20</text>
<text x="695.00" y="448.75" font-size="12.6" fill="#1e90ff" text-anchor="start" transform="rotate(-30 695.00 448.75)">25</text>
<text x="715.50" y="448.75" font-size="12.6" fill="#1e90ff" text-anchor="start" transform="rotate(-30 715.50 448.75)">30</text>
<text x="736.27" y="448.75" font-size="12.6" fill="#1e90ff" text-anchor="start" transform="rotate(-30 736.27 448.75)">36</text>
<text x="754.01" y="448.75" font-size="12.6" fill="#1e90ff" text-anchor="start" transform="rotate(-30 754.01 448.75)">42</text>
</g>
<path d="M90.5,36.5 V642.5 M753.5,36.5 V642.5 M90.5,36.5 H753.5 M90.5,642.5 H753.5" fill="none" stroke="#000" stroke-width="1.3" stroke-linecap="square"/>
<path d="M90.0,36.5 h-5.9 M90.0,215.5 h-5.9 M90.0,319.5 h-5.9 M90.0,393.5 h-5.9 M90.0,451.5 h-5.9 M90.0,498.5 h-5.9 M90.0,537.5 h-5.9 M90.0,572.5 h-5.9 M90.0,602.5 h-5.9 M90.0,629.5 h-5.9 M90.5,643.0 v5.9 M164.5,643.0 v5.9 M237.5,643.0 v5.9 M311.5,643.0 v5.9 M385.5,643.0 v5.9 M458.5,643.0 v5.9 M532.5,643.0 v5.9 M606.5,643.0 v5.9 M679.5,643.0 v5.9 M753.5,643.0 v5.9 " stroke="#000" stroke-width="1.25" fill="none"/>
<text transform="translate(78.40 43.65) scale(1 1.07)" font-size="16.67" text-anchor="end">100</text>
<text transform="translate(78.40 222.29) scale(1 1.07)" font-size="16.67" text-anchor="end">200</text>
<text transform="translate(78.40 326.79) scale(1 1.07)" font-size="16.67" text-anchor="end">300</text>
<text transform="translate(78.40 400.93) scale(1 1.07)" font-size="16.67" text-anchor="end">400</text>
<text transform="translate(78.40 458.44) scale(1 1.07)" font-size="16.67" text-anchor="end">500</text>
<text transform="translate(78.40 505.42) scale(1 1.07)" font-size="16.67" text-anchor="end">600</text>
<text transform="translate(78.40 545.15) scale(1 1.07)" font-size="16.67" text-anchor="end">700</text>
<text transform="translate(78.40 579.57) scale(1 1.07)" font-size="16.67" text-anchor="end">800</text>
<text transform="translate(78.40 609.92) scale(1 1.07)" font-size="16.67" text-anchor="end">900</text>
<text transform="translate(78.40 637.08) scale(1 1.07)" font-size="16.67" text-anchor="end">1000</text>
<text transform="translate(90.60 668.00) scale(1 1.07)" font-size="16.67" text-anchor="middle">−40</text>
<text transform="translate(164.27 668.00) scale(1 1.07)" font-size="16.67" text-anchor="middle">−30</text>
<text transform="translate(237.93 668.00) scale(1 1.07)" font-size="16.67" text-anchor="middle">−20</text>
<text transform="translate(311.60 668.00) scale(1 1.07)" font-size="16.67" text-anchor="middle">−10</text>
<text transform="translate(385.27 668.00) scale(1 1.07)" font-size="16.67" text-anchor="middle">0</text>
<text transform="translate(458.93 668.00) scale(1 1.07)" font-size="16.67" text-anchor="middle">10</text>
<text transform="translate(532.60 668.00) scale(1 1.07)" font-size="16.67" text-anchor="middle">20</text>
<text transform="translate(606.27 668.00) scale(1 1.07)" font-size="16.67" text-anchor="middle">30</text>
<text transform="translate(679.93 668.00) scale(1 1.07)" font-size="16.67" text-anchor="middle">40</text>
<text transform="translate(753.60 668.00) scale(1 1.07)" font-size="16.67" text-anchor="middle">50</text>
<text transform="translate(422.00 692.90) scale(1 1.07)" font-size="16.67" text-anchor="middle">Temperature (°C)</text>
<text transform="translate(25.0 340.0) rotate(-90) scale(1 1.07)" font-size="16.67" text-anchor="middle">Pressure (hPa)</text>
<text x="422" y="26.6" font-size="20" text-anchor="middle">wetPf2_S206.2026.052.18.56.G28</text>
</svg>
</body></html>
